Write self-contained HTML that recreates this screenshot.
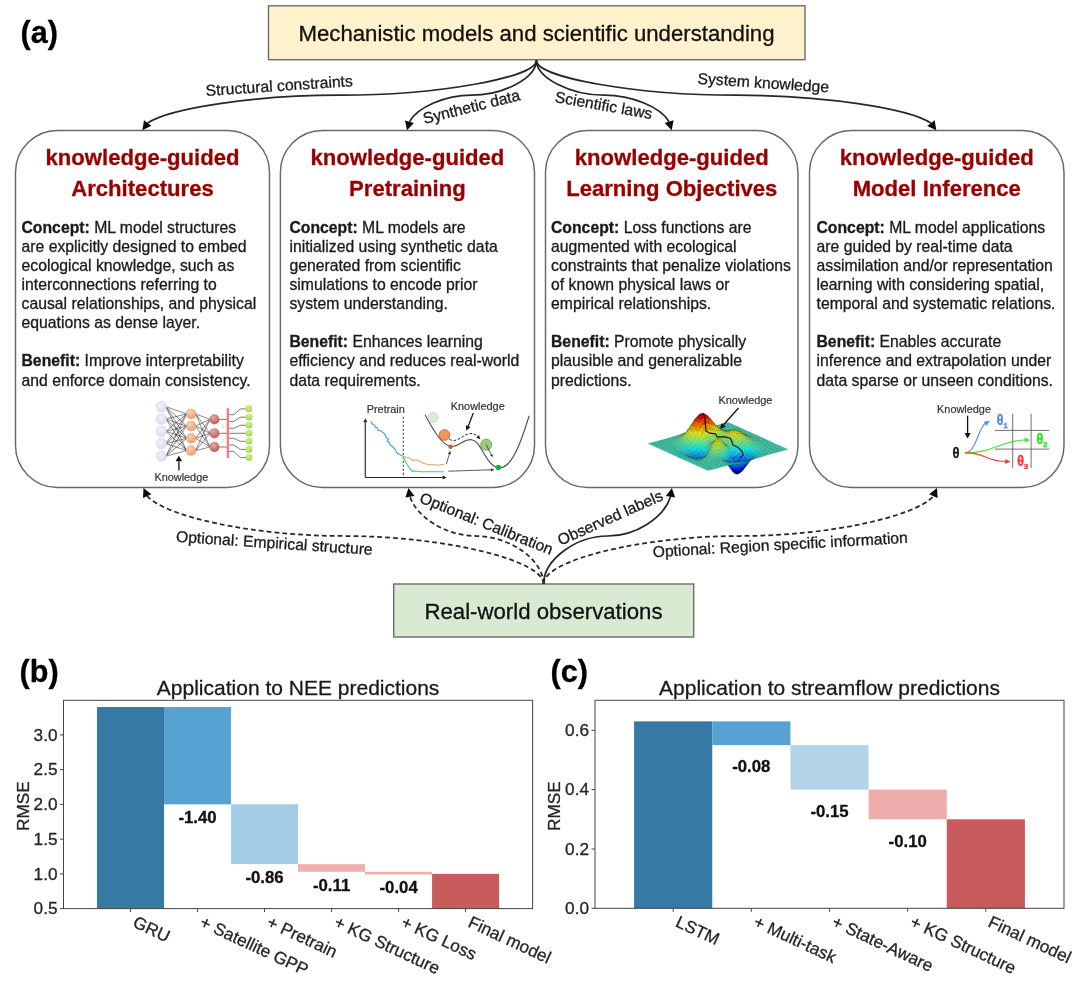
<!DOCTYPE html>
<html lang="en"><head><meta charset="utf-8"><title>Knowledge-guided machine learning</title>
<style>
html,body{margin:0;padding:0;background:#fff;}
body{width:1080px;height:983px;overflow:hidden;}
svg{display:block;font-family:"Liberation Sans", Arial, sans-serif;}
text{stroke-width:0.3px;stroke-linejoin:round;}
.body,.lbl{stroke:#1a1a1a;}
.hd{stroke:#990000;}
.tick{stroke:#262626;}
.ttl{stroke:#1a1a1a;}
.val{stroke:#111;}
.pan{stroke:#000;}
.kn{stroke:#333;stroke-width:0.2px;}
.body{font-size:15.75px;fill:#1a1a1a;}
.b{font-weight:bold;}
.hd{font-size:22.1px;font-weight:bold;fill:#990000;text-anchor:middle;}
.lbl{font-size:15.7px;fill:#1a1a1a;text-anchor:middle;}
.kn{font-size:10.9px;fill:#333;}
.tick{font-size:17.2px;fill:#262626;}
.ttl{font-size:21px;fill:#1a1a1a;text-anchor:middle;}
.val{font-size:16.8px;font-weight:bold;fill:#111;text-anchor:middle;}
.pan{font-size:30.6px;font-weight:bold;fill:#000;}
</style></head><body>
<svg width="1080" height="983" viewBox="0 0 1080 983">
<rect width="1080" height="983" fill="#fff"/>

<text class="pan" x="20.5" y="43">(a)</text>
<text class="pan" x="19.5" y="681.5">(b)</text>
<text class="pan" x="550.5" y="681.5">(c)</text>
<rect x="268.5" y="5.8" width="536.5" height="53.9" fill="#fff2cc" stroke="#6c6c6c" stroke-width="1.4"/>
<text x="536.5" y="40.5" text-anchor="middle" font-size="22.2" fill="#111" stroke="#111">Mechanistic models and scientific understanding</text>
<rect x="393.7" y="584" width="300" height="53" fill="#d9ead3" stroke="#6c6c6c" stroke-width="1.4"/>
<text x="543.5" y="618.7" text-anchor="middle" font-size="22.2" fill="#111" stroke="#111">Real-world observations</text>
<rect x="15.5" y="130.4" width="254.0" height="357.1" rx="42" ry="42" fill="#fff" stroke="#686868" stroke-width="1.45"/>
<rect x="280.4" y="130.4" width="254.1" height="357.1" rx="42" ry="42" fill="#fff" stroke="#686868" stroke-width="1.45"/>
<rect x="545.5" y="130.4" width="252.5" height="357.1" rx="42" ry="42" fill="#fff" stroke="#686868" stroke-width="1.45"/>
<rect x="809.5" y="130.4" width="254.5" height="357.1" rx="42" ry="42" fill="#fff" stroke="#686868" stroke-width="1.45"/>
<text class="hd" x="142.5" y="165.3">knowledge-guided</text>
<text class="hd" x="142.5" y="196">Architectures</text>
<text class="hd" x="407.4" y="165.3">knowledge-guided</text>
<text class="hd" x="407.4" y="196">Pretraining</text>
<text class="hd" x="671.8" y="165.3">knowledge-guided</text>
<text class="hd" x="671.8" y="196">Learning Objectives</text>
<text class="hd" x="936.8" y="165.3">knowledge-guided</text>
<text class="hd" x="936.8" y="196">Model Inference</text>
<text class="body" x="21.5" y="232.8"><tspan class="b">Concept:</tspan> ML model structures</text>
<text class="body" x="21.5" y="251.9">are explicitly designed to embed</text>
<text class="body" x="21.5" y="271.0">ecological knowledge, such as</text>
<text class="body" x="21.5" y="290.1">interconnections referring to</text>
<text class="body" x="21.5" y="309.2">causal relationships, and physical</text>
<text class="body" x="21.5" y="328.2">equations as dense layer.</text>
<text class="body" x="21.5" y="366.4"><tspan class="b">Benefit:</tspan> Improve interpretability</text>
<text class="body" x="21.5" y="385.5">and enforce domain consistency.</text>
<text class="body" x="289.4" y="232.8"><tspan class="b">Concept:</tspan> ML models are</text>
<text class="body" x="289.4" y="251.9">initialized using synthetic data</text>
<text class="body" x="289.4" y="271.0">generated from scientific</text>
<text class="body" x="289.4" y="290.1">simulations to encode prior</text>
<text class="body" x="289.4" y="309.2">system understanding.</text>
<text class="body" x="289.4" y="347.3"><tspan class="b">Benefit:</tspan> Enhances learning</text>
<text class="body" x="289.4" y="366.4">efficiency and reduces real-world</text>
<text class="body" x="289.4" y="385.5">data requirements.</text>
<text class="body" x="551" y="232.8"><tspan class="b">Concept:</tspan> Loss functions are</text>
<text class="body" x="551" y="251.9">augmented with ecological</text>
<text class="body" x="551" y="271.0">constraints that penalize violations</text>
<text class="body" x="551" y="290.1">of known physical laws or</text>
<text class="body" x="551" y="309.2">empirical relationships.</text>
<text class="body" x="551" y="347.3"><tspan class="b">Benefit:</tspan> Promote physically</text>
<text class="body" x="551" y="366.4">plausible and generalizable</text>
<text class="body" x="551" y="385.5">predictions.</text>
<text class="body" x="816.5" y="232.8"><tspan class="b">Concept:</tspan> ML model applications</text>
<text class="body" x="816.5" y="251.9">are guided by real-time data</text>
<text class="body" x="816.5" y="271.0">assimilation and/or representation</text>
<text class="body" x="816.5" y="290.1">learning with considering spatial,</text>
<text class="body" x="816.5" y="309.2">temporal and systematic relations.</text>
<text class="body" x="816.5" y="347.3"><tspan class="b">Benefit:</tspan> Enables accurate</text>
<text class="body" x="816.5" y="366.4">inference and extrapolation under</text>
<text class="body" x="816.5" y="385.5">data sparse or unseen conditions.</text>
<path d="M536.4,60.2 C536.4,77.7 437.9,95.2 339.4,95.2 C254.4,95.2 169.4,108.2 147.7,123.0" fill="none" stroke="#262626" stroke-width="1.7"/>
<polygon points="142.4,130.2 144.0,120.3 151.4,125.8" fill="#0a0a0a"/>
<path d="M536.4,60.2 C536.4,77.7 504.0,95.2 471.7,95.2 C444.7,95.2 417.6,107.4 409.5,121.7" fill="none" stroke="#262626" stroke-width="1.7"/>
<polygon points="407.0,130.2 405.0,120.4 413.9,122.9" fill="#0a0a0a"/>
<path d="M536.4,60.2 C536.4,77.7 570.2,95.2 604.0,95.2 C632.3,95.2 660.6,107.4 669.1,121.7" fill="none" stroke="#262626" stroke-width="1.7"/>
<polygon points="671.7,130.2 664.7,123.0 673.6,120.3" fill="#0a0a0a"/>
<path d="M536.4,60.2 C536.4,77.7 636.4,95.2 736.3,95.2 C822.7,95.2 909.0,108.2 931.0,123.1" fill="none" stroke="#262626" stroke-width="1.7"/>
<polygon points="936.3,130.2 927.2,125.9 934.7,120.3" fill="#0a0a0a"/>
<path d="M543.6,584.0 C543.6,560.0 443.6,536.0 343.6,536.0 C254.8,536.0 166.1,517.1 147.2,496.1" fill="none" stroke="#262626" stroke-width="1.75" stroke-dasharray="4.8 3.1"/>
<polygon points="143.5,488.0 151.4,494.2 143.0,498.0" fill="#0a0a0a"/>
<path d="M543.6,584.0 C543.6,560.0 509.8,536.0 476.1,536.0 C446.4,536.0 416.8,517.5 410.0,496.8" fill="none" stroke="#262626" stroke-width="1.75" stroke-dasharray="4.8 3.1"/>
<polygon points="408.5,488.0 414.5,496.0 405.4,497.5" fill="#0a0a0a"/>
<path d="M543.6,584.0 C543.6,560.0 575.7,536.0 607.8,536.0 C635.9,536.0 664.0,517.5 670.5,496.8" fill="none" stroke="#262626" stroke-width="1.7"/>
<polygon points="671.9,488.0 675.1,497.5 665.9,496.1" fill="#0a0a0a"/>
<path d="M543.6,584.0 C543.6,560.0 642.0,536.0 740.3,536.0 C827.5,536.0 914.7,517.1 933.4,496.1" fill="none" stroke="#262626" stroke-width="1.75" stroke-dasharray="4.8 3.1"/>
<polygon points="937.0,488.0 937.6,498.0 929.1,494.2" fill="#0a0a0a"/>
<text class="lbl" transform="translate(279.5,91.0) rotate(-3.8)">Structural constraints</text>
<text class="lbl" transform="translate(472.8,112.0) rotate(-14)">Synthetic data</text>
<text class="lbl" transform="translate(602.8,110.6) rotate(10)">Scientific laws</text>
<text class="lbl" transform="translate(763.0,88.0) rotate(3.8)">System knowledge</text>
<text class="lbl" transform="translate(274.0,548.3) rotate(3.8)">Optional: Empirical structure</text>
<text class="lbl" transform="translate(484.5,528.5) rotate(22)">Optional: Calibration</text>
<text class="lbl" transform="translate(612.3,522.6) rotate(-24)">Observed labels</text>
<text class="lbl" transform="translate(780.5,550.0) rotate(-3.2)">Optional: Region specific information</text>
<defs><radialGradient id="gL" cx="40%" cy="35%" r="70%"><stop offset="0" stop-color="#f0f0fe"/><stop offset="1" stop-color="#dcdcf5"/></radialGradient><radialGradient id="gO" cx="40%" cy="30%" r="75%"><stop offset="0" stop-color="#fbd0b4"/><stop offset="1" stop-color="#ee9a62"/></radialGradient><radialGradient id="gR" cx="40%" cy="30%" r="75%"><stop offset="0" stop-color="#e4aaaa"/><stop offset="1" stop-color="#bf5252"/></radialGradient><radialGradient id="gG" cx="40%" cy="30%" r="75%"><stop offset="0" stop-color="#d6f08c"/><stop offset="1" stop-color="#a4d840"/></radialGradient></defs><path d="M165.9,406.7L186.6,413.9M165.9,406.7L186.6,426.1M165.9,406.7L186.6,438.3M165.9,406.7L186.6,450.6M165.9,419.1L186.6,413.9M165.9,419.1L186.6,426.1M165.9,419.1L186.6,438.3M165.9,419.1L186.6,450.6M165.9,431.3L186.6,413.9M165.9,431.3L186.6,426.1M165.9,431.3L186.6,438.3M165.9,431.3L186.6,450.6M165.9,443.6L186.6,413.9M165.9,443.6L186.6,426.1M165.9,443.6L186.6,438.3M165.9,443.6L186.6,450.6M165.9,456.1L186.6,413.9M165.9,456.1L186.6,426.1M165.9,456.1L186.6,438.3M165.9,456.1L186.6,450.6M195.6,413.9L209.9,419.4M195.6,413.9L209.9,433.3M195.6,413.9L209.9,447.0M195.6,426.1L209.9,419.4M195.6,426.1L209.9,433.3M195.6,426.1L209.9,447.0M195.6,438.3L209.9,419.4M195.6,438.3L209.9,433.3M195.6,438.3L209.9,447.0M195.6,450.6L209.9,419.4M195.6,450.6L209.9,433.3M195.6,450.6L209.9,447.0" stroke="#111" stroke-width="0.55" fill="none" opacity="0.9"/><path d="M218.4,419.4H227.8M218.4,433.3H227.8M218.4,447.0H227.8M227.8,414.7H233.9L240.3,408.9H248.9M227.8,421.4H233.9L240.3,417.2H248.9M227.8,428.3H233.9L240.3,425.3H248.9M227.8,433.3H233.9L240.3,433.3H248.9M227.8,438.3H233.9L240.3,441.3H248.9M227.8,445.0H233.9L240.3,449.4H248.9M227.8,451.4H233.9L240.3,457.6H248.9" stroke="#444" stroke-width="0.7" fill="none"/><rect x="226.7" y="408.1" width="2.3" height="49.9" fill="#ff7b7b"/><path d="M222.8,424.4v3.2M222.8,439.1v3.2" stroke="#999" stroke-width="0.7" stroke-dasharray="1.2 0.8" fill="none"/><circle cx="161.4" cy="406.7" r="5.2" fill="url(#gL)" stroke="#c4c4d8" stroke-width="0.5"/><circle cx="161.4" cy="419.1" r="5.2" fill="url(#gL)" stroke="#c4c4d8" stroke-width="0.5"/><circle cx="161.4" cy="431.3" r="5.2" fill="url(#gL)" stroke="#c4c4d8" stroke-width="0.5"/><circle cx="161.4" cy="443.6" r="5.2" fill="url(#gL)" stroke="#c4c4d8" stroke-width="0.5"/><circle cx="161.4" cy="456.1" r="5.2" fill="url(#gL)" stroke="#c4c4d8" stroke-width="0.5"/><circle cx="191.1" cy="413.9" r="5.0" fill="url(#gO)" stroke="#e8a57c" stroke-width="0.4"/><circle cx="191.1" cy="426.1" r="5.0" fill="url(#gO)" stroke="#e8a57c" stroke-width="0.4"/><circle cx="191.1" cy="438.3" r="5.0" fill="url(#gO)" stroke="#e8a57c" stroke-width="0.4"/><circle cx="191.1" cy="450.6" r="5.0" fill="url(#gO)" stroke="#e8a57c" stroke-width="0.4"/><circle cx="214.4" cy="419.4" r="4.9" fill="url(#gR)" stroke="#c88" stroke-width="0.4"/><circle cx="214.4" cy="433.3" r="4.9" fill="url(#gR)" stroke="#c88" stroke-width="0.4"/><circle cx="214.4" cy="447.0" r="4.9" fill="url(#gR)" stroke="#c88" stroke-width="0.4"/><circle cx="248.9" cy="408.9" r="3.3" fill="url(#gG)" stroke="#b4d878" stroke-width="0.4"/><circle cx="248.9" cy="417.2" r="3.3" fill="url(#gG)" stroke="#b4d878" stroke-width="0.4"/><circle cx="248.9" cy="425.3" r="3.3" fill="url(#gG)" stroke="#b4d878" stroke-width="0.4"/><circle cx="248.9" cy="433.3" r="3.3" fill="url(#gG)" stroke="#b4d878" stroke-width="0.4"/><circle cx="248.9" cy="441.3" r="3.3" fill="url(#gG)" stroke="#b4d878" stroke-width="0.4"/><circle cx="248.9" cy="449.4" r="3.3" fill="url(#gG)" stroke="#b4d878" stroke-width="0.4"/><circle cx="248.9" cy="457.6" r="3.3" fill="url(#gG)" stroke="#b4d878" stroke-width="0.4"/><line x1="178.9" y1="470.6" x2="178.9" y2="461.3" stroke="#111" stroke-width="1.3"/><polygon points="178.9,455.8 182.1,461.3 175.6,461.3" fill="#111"/><text class="kn" x="154.4" y="480.6">Knowledge</text><line x1="365.3" y1="477.5" x2="365.3" y2="422.3" stroke="#222" stroke-width="1.1"/><polygon points="365.3,418.3 367.3,422.3 363.3,422.3" fill="#222"/><line x1="365.3" y1="477.5" x2="442.7" y2="477.5" stroke="#222" stroke-width="1.1"/><polygon points="446.7,477.5 442.7,479.5 442.7,475.5" fill="#222"/><line x1="403.3" y1="416.7" x2="403.3" y2="477.5" stroke="#222" stroke-width="0.9" stroke-dasharray="2.2 1.8"/><text class="kn" x="366.7" y="413.0">Pretrain</text><polyline points="370.8,421.7 373.0,424.7 374.7,425.0 375.3,427.2 377.3,427.7 378.0,430.3 380.3,430.7 382.7,432.2 385.0,434.3 386.3,437.7 388.3,439.0 387.3,441.0 389.3,442.7 390.0,445.0 392.7,446.7 395.0,449.3 396.7,452.7 399.3,454.3 401.3,455.3 403.3,456.3" fill="none" stroke="#4a9be0" stroke-width="1.15"/><polyline points="403.3,456.3 406.7,457.5 410.0,458.3 412.5,460.3 416.7,460.0 420.0,461.3 422.5,463.0 425.0,463.7 430.0,464.7 435.0,464.8 438.3,465.2 441.7,464.5 444.2,464.8" fill="none" stroke="#e9a27a" stroke-width="1.15"/><polyline points="403.3,456.7 405.0,460.8 407.5,465.0 410.0,469.2 412.5,471.3 415.0,471.0 421.7,471.7 444.2,471.7" fill="none" stroke="#3fcf7f" stroke-width="1.15"/><path d="M425.0,414.7 C433.3,430.0 441.7,445.0 450.8,446.3 C458.3,447.3 463.3,438.7 471.7,439.7 C481.7,441.0 485.0,465.0 498.3,467.7 C513.3,470.3 523.3,433.3 529.2,415.8" fill="none" stroke="#505050" stroke-width="1.15"/><circle cx="433.0" cy="417.5" r="5" fill="#deecd6" stroke="#9cc78a" stroke-width="0.8" stroke-dasharray="1.6 1.1"/><circle cx="444.5" cy="435.0" r="5.3" fill="#f4955a" stroke="#c9621f" stroke-width="0.9"/><circle cx="450.5" cy="446.7" r="2.2" fill="#c8601f"/><circle cx="486.2" cy="444.7" r="5.5" fill="#9cc97f" stroke="#6aa34c" stroke-width="0.9"/><circle cx="498.3" cy="467.5" r="2.8" fill="#08b44c"/><path d="M449.2,439.2 C455.0,442.5 459.2,438.7 465.0,435.3 C470.0,432.5 474.2,433.0 478.0,436.7" fill="none" stroke="#222" stroke-width="1" stroke-dasharray="2.6 1.8"/><polygon points="480.3,439.3 476.3,437.7 479.0,435.0" fill="#222"/><text class="kn" x="450.8" y="409.7">Knowledge</text><line x1="473.3" y1="413.0" x2="468.2" y2="426.2" stroke="#111" stroke-width="1.2"/><polygon points="466.3,430.8 465.8,425.3 470.5,427.1" fill="#111"/><line x1="486.2" y1="444.7" x2="491.3" y2="454.7" stroke="#333" stroke-width="0.8"/><polygon points="492.7,457.3 490.0,455.3 492.6,454.0" fill="#333"/><line x1="446.3" y1="464.2" x2="449.3" y2="454.2" stroke="#333" stroke-width="0.8"/><polygon points="450.3,450.8 450.9,454.6 447.8,453.7" fill="#333"/><line x1="448.3" y1="471.2" x2="490.8" y2="469.8" stroke="#333" stroke-width="0.8"/><polygon points="494.3,469.7 490.9,471.4 490.8,468.2" fill="#333"/><g stroke="#000" stroke-opacity="0.38" stroke-width="0.22" stroke-linejoin="round"><path d="M727.5,423.7L729.7,423.1L728.1,422.3L725.9,422.9Z" fill="#25cca6"/><path d="M725.3,424.3L727.5,423.7L725.9,422.9L723.6,423.5Z" fill="#25cca6"/><path d="M729.2,424.4L731.4,423.8L729.7,423.1L727.5,423.7Z" fill="#25cca6"/><path d="M723.1,424.8L725.3,424.3L723.6,423.5L721.4,424.1Z" fill="#25cca6"/><path d="M730.9,425.2L733.1,424.6L731.4,423.8L729.2,424.4Z" fill="#25cca6"/><path d="M727.0,425.0L729.2,424.4L727.5,423.7L725.3,424.3Z" fill="#25cca6"/><path d="M720.9,425.4L723.1,424.8L721.4,424.1L719.2,424.7Z" fill="#25cca6"/><path d="M724.7,425.6L727.0,425.0L725.3,424.3L723.1,424.8Z" fill="#25cca6"/><path d="M728.6,425.8L730.9,425.2L729.2,424.4L727.0,425.0Z" fill="#25cca6"/><path d="M732.5,425.9L734.7,425.3L733.1,424.6L730.9,425.2Z" fill="#25cca6"/><path d="M726.4,426.3L728.6,425.8L727.0,425.0L724.7,425.6Z" fill="#25cca6"/><path d="M718.6,426.0L720.9,425.4L719.2,424.7L717.0,425.3Z" fill="#25cca6"/><path d="M722.5,426.2L724.7,425.6L723.1,424.8L720.9,425.4Z" fill="#25cca6"/><path d="M730.3,426.5L732.5,425.9L730.9,425.2L728.6,425.8Z" fill="#25cca6"/><path d="M734.2,426.7L736.4,426.1L734.7,425.3L732.5,425.9Z" fill="#25cca6"/><path d="M716.4,426.6L718.6,426.0L717.0,425.3L714.7,425.8Z" fill="#26cca5"/><path d="M724.2,426.9L726.4,426.3L724.7,425.6L722.5,426.2Z" fill="#25cca6"/><path d="M728.1,427.1L730.3,426.5L728.6,425.8L726.4,426.3Z" fill="#25cca6"/><path d="M735.9,427.4L738.1,426.8L736.4,426.1L734.2,426.7Z" fill="#25cca6"/><path d="M720.3,426.7L722.5,426.2L720.9,425.4L718.6,426.0Z" fill="#26cca5"/><path d="M732.0,427.3L734.2,426.7L732.5,425.9L730.3,426.5Z" fill="#25cca6"/><path d="M714.2,427.1L716.4,426.6L714.7,425.8L712.5,426.4Z" fill="#26cca5"/><path d="M718.1,427.3L720.3,426.7L718.6,426.0L716.4,426.6Z" fill="#26cca5"/><path d="M722.0,427.5L724.2,426.9L722.5,426.2L720.3,426.7Z" fill="#26cca5"/><path d="M725.9,427.7L728.1,427.1L726.4,426.3L724.2,426.9Z" fill="#26cca5"/><path d="M729.7,427.8L732.0,427.3L730.3,426.5L728.1,427.1Z" fill="#26cca5"/><path d="M733.6,428.0L735.9,427.4L734.2,426.7L732.0,427.3Z" fill="#25cca6"/><path d="M737.5,428.2L739.7,427.6L738.1,426.8L735.9,427.4Z" fill="#25cca6"/><path d="M719.7,428.0L722.0,427.5L720.3,426.7L718.1,427.3Z" fill="#26cca5"/><path d="M731.4,428.6L733.6,428.0L732.0,427.3L729.7,427.8Z" fill="#26cca5"/><path d="M712.0,427.7L714.2,427.1L712.5,426.4L710.3,427.0Z" fill="#26cca5"/><path d="M715.9,427.8L718.1,427.3L716.4,426.6L714.2,427.1Z" fill="#26cca5"/><path d="M723.6,428.2L725.9,427.7L724.2,426.9L722.0,427.5Z" fill="#26cca5"/><path d="M727.5,428.4L729.7,427.8L728.1,427.1L725.9,427.7Z" fill="#26cca5"/><path d="M735.3,428.7L737.5,428.2L735.9,427.4L733.6,428.0Z" fill="#26cca5"/><path d="M739.2,428.9L741.4,428.3L739.7,427.6L737.5,428.2Z" fill="#25cca6"/><path d="M709.7,428.2L712.0,427.7L710.3,427.0L708.1,427.5Z" fill="#27cca4"/><path d="M717.5,428.5L719.7,428.0L718.1,427.3L715.9,427.8Z" fill="#27cca4"/><path d="M721.4,428.7L723.6,428.2L722.0,427.5L719.7,428.0Z" fill="#27cca4"/><path d="M729.2,429.1L731.4,428.6L729.7,427.8L727.5,428.4Z" fill="#26cca5"/><path d="M733.1,429.3L735.3,428.7L733.6,428.0L731.4,428.6Z" fill="#26cca5"/><path d="M740.9,429.7L743.1,429.1L741.4,428.3L739.2,428.9Z" fill="#26cca5"/><path d="M713.6,428.3L715.9,427.8L714.2,427.1L712.0,427.7Z" fill="#27cca4"/><path d="M725.3,428.9L727.5,428.4L725.9,427.7L723.6,428.2Z" fill="#27cca4"/><path d="M737.0,429.5L739.2,428.9L737.5,428.2L735.3,428.7Z" fill="#26cca5"/><path d="M707.5,428.6L709.7,428.2L708.1,427.5L705.9,428.1Z" fill="#28cca3"/><path d="M711.4,428.8L713.6,428.3L712.0,427.7L709.7,428.2Z" fill="#29cca2"/><path d="M715.3,428.9L717.5,428.5L715.9,427.8L713.6,428.3Z" fill="#29cca2"/><path d="M719.2,429.1L721.4,428.7L719.7,428.0L717.5,428.5Z" fill="#29cca2"/><path d="M723.1,429.3L725.3,428.9L723.6,428.2L721.4,428.7Z" fill="#28cca3"/><path d="M727.0,429.6L729.2,429.1L727.5,428.4L725.3,428.9Z" fill="#28cca3"/><path d="M730.9,429.8L733.1,429.3L731.4,428.6L729.2,429.1Z" fill="#27cca4"/><path d="M734.7,430.0L737.0,429.5L735.3,428.7L733.1,429.3Z" fill="#26cca5"/><path d="M738.6,430.2L740.9,429.7L739.2,428.9L737.0,429.5Z" fill="#26cca5"/><path d="M742.5,430.4L744.7,429.8L743.1,429.1L740.9,429.7Z" fill="#26cca5"/><path d="M713.1,429.2L715.3,428.9L713.6,428.3L711.4,428.8Z" fill="#2ccc9f"/><path d="M724.7,430.0L727.0,429.6L725.3,428.9L723.1,429.3Z" fill="#2acca1"/><path d="M736.4,430.7L738.6,430.2L737.0,429.5L734.7,430.0Z" fill="#27cca4"/><path d="M705.3,429.1L707.5,428.6L705.9,428.1L703.6,428.6Z" fill="#2acca1"/><path d="M709.2,429.1L711.4,428.8L709.7,428.2L707.5,428.6Z" fill="#2bcca0"/><path d="M717.0,429.4L719.2,429.1L717.5,428.5L715.3,428.9Z" fill="#2ccc9f"/><path d="M720.9,429.7L723.1,429.3L721.4,428.7L719.2,429.1Z" fill="#2bcca0"/><path d="M728.6,430.2L730.9,429.8L729.2,429.1L727.0,429.6Z" fill="#29cca2"/><path d="M732.5,430.5L734.7,430.0L733.1,429.3L730.9,429.8Z" fill="#28cca3"/><path d="M740.3,430.9L742.5,430.4L740.9,429.7L738.6,430.2Z" fill="#26cca5"/><path d="M744.2,431.1L746.4,430.6L744.7,429.8L742.5,430.4Z" fill="#26cca5"/><path d="M703.1,429.4L705.3,429.1L703.6,428.6L701.4,429.0Z" fill="#2dcc9e"/><path d="M710.9,429.4L713.1,429.2L711.4,428.8L709.2,429.1Z" fill="#30cc9b"/><path d="M714.7,429.6L717.0,429.4L715.3,428.9L713.1,429.2Z" fill="#30cc9b"/><path d="M722.5,430.2L724.7,430.0L723.1,429.3L720.9,429.7Z" fill="#2ecc9d"/><path d="M726.4,430.6L728.6,430.2L727.0,429.6L724.7,430.0Z" fill="#2ccc9f"/><path d="M734.2,431.2L736.4,430.7L734.7,430.0L732.5,430.5Z" fill="#28cca3"/><path d="M738.1,431.4L740.3,430.9L738.6,430.2L736.4,430.7Z" fill="#27cca4"/><path d="M745.9,431.9L748.1,431.3L746.4,430.6L744.2,431.1Z" fill="#26cca5"/><path d="M707.0,429.4L709.2,429.1L707.5,428.6L705.3,429.1Z" fill="#2fcc9c"/><path d="M718.6,429.9L720.9,429.7L719.2,429.1L717.0,429.4Z" fill="#2fcc9c"/><path d="M730.3,430.9L732.5,430.5L730.9,429.8L728.6,430.2Z" fill="#2acca1"/><path d="M742.0,431.7L744.2,431.1L742.5,430.4L740.3,430.9Z" fill="#27cca4"/><path d="M700.9,429.8L703.1,429.4L701.4,429.0L699.2,429.5Z" fill="#2fcc9c"/><path d="M704.7,429.6L707.0,429.4L705.3,429.1L703.1,429.4Z" fill="#33cc98"/><path d="M708.6,429.5L710.9,429.4L709.2,429.1L707.0,429.4Z" fill="#36cc95"/><path d="M712.5,429.6L714.7,429.6L713.1,429.2L710.9,429.4Z" fill="#37cc94"/><path d="M716.4,429.8L718.6,429.9L717.0,429.4L714.7,429.6Z" fill="#36cc95"/><path d="M720.3,430.2L722.5,430.2L720.9,429.7L718.6,429.9Z" fill="#34cc97"/><path d="M724.2,430.7L726.4,430.6L724.7,430.0L722.5,430.2Z" fill="#31cc9a"/><path d="M728.1,431.1L730.3,430.9L728.6,430.2L726.4,430.6Z" fill="#2ecc9d"/><path d="M732.0,431.5L734.2,431.2L732.5,430.5L730.3,430.9Z" fill="#2bcca0"/><path d="M735.9,431.8L738.1,431.4L736.4,430.7L734.2,431.2Z" fill="#29cca2"/><path d="M739.7,432.1L742.0,431.7L740.3,430.9L738.1,431.4Z" fill="#28cca3"/><path d="M743.6,432.4L745.9,431.9L744.2,431.1L742.0,431.7Z" fill="#27cca4"/><path d="M747.5,432.6L749.7,432.1L748.1,431.3L745.9,431.9Z" fill="#26cca5"/><path d="M706.4,429.4L708.6,429.5L707.0,429.4L704.7,429.6Z" fill="#3ecc8d"/><path d="M718.1,430.0L720.3,430.2L718.6,429.9L716.4,429.8Z" fill="#3ecc8d"/><path d="M729.7,431.7L732.0,431.5L730.3,430.9L728.1,431.1Z" fill="#30cc9b"/><path d="M741.4,432.8L743.6,432.4L742.0,431.7L739.7,432.1Z" fill="#29cca2"/><path d="M698.6,430.1L700.9,429.8L699.2,429.5L697.0,430.0Z" fill="#33cc98"/><path d="M749.2,433.3L751.4,432.8L749.7,432.1L747.5,432.6Z" fill="#27cca4"/><path d="M702.5,429.7L704.7,429.6L703.1,429.4L700.9,429.8Z" fill="#39cc92"/><path d="M710.3,429.3L712.5,429.6L710.9,429.4L708.6,429.5Z" fill="#41cc8a"/><path d="M714.2,429.5L716.4,429.8L714.7,429.6L712.5,429.6Z" fill="#41cc8a"/><path d="M722.0,430.6L724.2,430.7L722.5,430.2L720.3,430.2Z" fill="#39cc92"/><path d="M725.9,431.2L728.1,431.1L726.4,430.6L724.2,430.7Z" fill="#34cc97"/><path d="M733.6,432.1L735.9,431.8L734.2,431.2L732.0,431.5Z" fill="#2dcc9e"/><path d="M737.5,432.5L739.7,432.1L738.1,431.4L735.9,431.8Z" fill="#2bcca0"/><path d="M745.3,433.1L747.5,432.6L745.9,431.9L743.6,432.4Z" fill="#28cca3"/><path d="M696.4,430.4L698.6,430.1L697.0,430.0L694.7,430.4Z" fill="#36cc95"/><path d="M704.2,429.2L706.4,429.4L704.7,429.6L702.5,429.7Z" fill="#47cc84"/><path d="M708.1,428.8L710.3,429.3L708.6,429.5L706.4,429.4Z" fill="#4ecc7d"/><path d="M715.9,429.4L718.1,430.0L716.4,429.8L714.2,429.5Z" fill="#4ccc7f"/><path d="M719.7,430.1L722.0,430.6L720.3,430.2L718.1,430.0Z" fill="#46cc85"/><path d="M727.5,431.7L729.7,431.7L728.1,431.1L725.9,431.2Z" fill="#38cc93"/><path d="M731.4,432.2L733.6,432.1L732.0,431.5L729.7,431.7Z" fill="#33cc98"/><path d="M739.2,433.0L741.4,432.8L739.7,432.1L737.5,432.5Z" fill="#2dcc9e"/><path d="M743.1,433.4L745.3,433.1L743.6,432.4L741.4,432.8Z" fill="#2acca1"/><path d="M750.9,434.0L753.1,433.5L751.4,432.8L749.2,433.3Z" fill="#27cca4"/><path d="M700.3,429.8L702.5,429.7L700.9,429.8L698.6,430.1Z" fill="#3fcc8c"/><path d="M747.0,433.7L749.2,433.3L747.5,432.6L745.3,433.1Z" fill="#29cca2"/><path d="M712.0,428.9L714.2,429.5L712.5,429.6L710.3,429.3Z" fill="#50cc7b"/><path d="M723.6,430.9L725.9,431.2L724.2,430.7L722.0,430.6Z" fill="#3ecc8d"/><path d="M735.3,432.7L737.5,432.5L735.9,431.8L733.6,432.1Z" fill="#2fcc9c"/><path d="M702.0,429.0L704.2,429.2L702.5,429.7L700.3,429.8Z" fill="#52cc79"/><path d="M744.7,434.0L747.0,433.7L745.3,433.1L743.1,433.4Z" fill="#2ccc9f"/><path d="M694.2,430.8L696.4,430.4L694.7,430.4L692.5,430.9Z" fill="#39cc92"/><path d="M698.1,429.9L700.3,429.8L698.6,430.1L696.4,430.4Z" fill="#45cc86"/><path d="M705.9,428.2L708.1,428.8L706.4,429.4L704.2,429.2Z" fill="#5dcc6e"/><path d="M709.7,427.9L712.0,428.9L710.3,429.3L708.1,428.8Z" fill="#63cc69"/><path d="M713.6,428.3L715.9,429.4L714.2,429.5L712.0,428.9Z" fill="#61cc6a"/><path d="M717.5,429.2L719.7,430.1L718.1,430.0L715.9,429.4Z" fill="#59cc72"/><path d="M721.4,430.3L723.6,430.9L722.0,430.6L719.7,430.1Z" fill="#4ecc7d"/><path d="M725.3,431.3L727.5,431.7L725.9,431.2L723.6,430.9Z" fill="#44cc87"/><path d="M729.2,432.1L731.4,432.2L729.7,431.7L727.5,431.7Z" fill="#3ccc8f"/><path d="M733.1,432.7L735.3,432.7L733.6,432.1L731.4,432.2Z" fill="#37cc94"/><path d="M737.0,433.2L739.2,433.0L737.5,432.5L735.3,432.7Z" fill="#32cc99"/><path d="M740.9,433.6L743.1,433.4L741.4,432.8L739.2,433.0Z" fill="#2fcc9c"/><path d="M748.6,434.4L750.9,434.0L749.2,433.3L747.0,433.7Z" fill="#29cca2"/><path d="M752.5,434.8L754.7,434.3L753.1,433.5L750.9,434.0Z" fill="#28cca3"/><path d="M699.7,428.7L702.0,429.0L700.3,429.8L698.1,429.9Z" fill="#5dcc6e"/><path d="M711.4,426.8L713.6,428.3L712.0,428.9L709.7,427.9Z" fill="#81d453"/><path d="M723.1,430.6L725.3,431.3L723.6,430.9L721.4,430.3Z" fill="#55cc76"/><path d="M734.7,433.0L737.0,433.2L735.3,432.7L733.1,432.7Z" fill="#3bcc90"/><path d="M746.4,434.7L748.6,434.4L747.0,433.7L744.7,434.0Z" fill="#2ecc9d"/><path d="M692.0,431.2L694.2,430.8L692.5,430.9L690.3,431.4Z" fill="#3bcc90"/><path d="M703.6,427.4L705.9,428.2L704.2,429.2L702.0,429.0Z" fill="#73d360"/><path d="M742.5,434.1L744.7,434.0L743.1,433.4L740.9,433.6Z" fill="#32cc99"/><path d="M754.2,435.5L756.4,435.0L754.7,434.3L752.5,434.8Z" fill="#28cca3"/><path d="M695.9,430.1L698.1,429.9L696.4,430.4L694.2,430.8Z" fill="#4acc81"/><path d="M707.5,426.7L709.7,427.9L708.1,428.8L705.9,428.2Z" fill="#80d655"/><path d="M715.3,427.8L717.5,429.2L715.9,429.4L713.6,428.3Z" fill="#74cd59"/><path d="M719.2,429.2L721.4,430.3L719.7,430.1L717.5,429.2Z" fill="#65cc66"/><path d="M727.0,431.7L729.2,432.1L727.5,431.7L725.3,431.3Z" fill="#49cc82"/><path d="M730.9,432.5L733.1,432.7L731.4,432.2L729.2,432.1Z" fill="#41cc8a"/><path d="M738.6,433.6L740.9,433.6L739.2,433.0L737.0,433.2Z" fill="#36cc95"/><path d="M750.3,435.1L752.5,434.8L750.9,434.0L748.6,434.4Z" fill="#2acca1"/><path d="M689.7,431.8L692.0,431.2L690.3,431.4L688.1,432.0Z" fill="#3ccc8f"/><path d="M697.5,428.6L699.7,428.7L698.1,429.9L695.9,430.1Z" fill="#68ce65"/><path d="M701.4,426.7L703.6,427.4L702.0,429.0L699.7,428.7Z" fill="#88d850"/><path d="M709.2,425.0L711.4,426.8L709.7,427.9L707.5,426.7Z" fill="#a8db33"/><path d="M713.1,425.9L715.3,427.8L713.6,428.3L711.4,426.8Z" fill="#9dd73a"/><path d="M720.9,429.5L723.1,430.6L721.4,430.3L719.2,429.2Z" fill="#6ecc5d"/><path d="M724.7,431.0L727.0,431.7L725.3,431.3L723.1,430.6Z" fill="#5ccc6f"/><path d="M732.5,432.7L734.7,433.0L733.1,432.7L730.9,432.5Z" fill="#48cc83"/><path d="M736.4,433.3L738.6,433.6L737.0,433.2L734.7,433.0Z" fill="#41cc8a"/><path d="M744.2,434.7L746.4,434.7L744.7,434.0L742.5,434.1Z" fill="#35cc96"/><path d="M748.1,435.3L750.3,435.1L748.6,434.4L746.4,434.7Z" fill="#2fcc9c"/><path d="M755.9,436.2L758.1,435.8L756.4,435.0L754.2,435.5Z" fill="#28cca3"/><path d="M693.6,430.4L695.9,430.1L694.2,430.8L692.0,431.2Z" fill="#4fcc7c"/><path d="M705.3,425.3L707.5,426.7L705.9,428.2L703.6,427.4Z" fill="#a0dc3c"/><path d="M740.3,434.0L742.5,434.1L740.9,433.6L738.6,433.6Z" fill="#3bcc90"/><path d="M752.0,435.8L754.2,435.5L752.5,434.8L750.3,435.1Z" fill="#2bcca0"/><path d="M717.0,427.6L719.2,429.2L717.5,429.2L715.3,427.8Z" fill="#84cd49"/><path d="M728.6,432.0L730.9,432.5L729.2,432.1L727.0,431.7Z" fill="#4fcc7c"/><path d="M695.3,428.7L697.5,428.6L695.9,430.1L693.6,430.4Z" fill="#71d05f"/><path d="M707.0,423.0L709.2,425.0L707.5,426.7L705.3,425.3Z" fill="#d2e00d"/><path d="M738.1,433.5L740.3,434.0L738.6,433.6L736.4,433.3Z" fill="#49cc82"/><path d="M749.7,436.0L752.0,435.8L750.3,435.1L748.1,435.3Z" fill="#30cc9b"/><path d="M687.5,432.4L689.7,431.8L688.1,432.0L685.9,432.6Z" fill="#3ccc8f"/><path d="M691.4,430.9L693.6,430.4L692.0,431.2L689.7,431.8Z" fill="#51cc7a"/><path d="M699.2,426.2L701.4,426.7L699.7,428.7L697.5,428.6Z" fill="#9bdb3f"/><path d="M703.1,424.0L705.3,425.3L703.6,427.4L701.4,426.7Z" fill="#bfdf1f"/><path d="M710.9,423.5L713.1,425.9L711.4,426.8L709.2,425.0Z" fill="#cddd0f"/><path d="M714.7,425.4L717.0,427.6L715.3,427.8L713.1,425.9Z" fill="#b2d623"/><path d="M718.6,427.8L720.9,429.5L719.2,429.2L717.0,427.6Z" fill="#8ecc3d"/><path d="M722.5,430.0L724.7,431.0L723.1,430.6L720.9,429.5Z" fill="#74cc57"/><path d="M726.4,431.4L728.6,432.0L727.0,431.7L724.7,431.0Z" fill="#62cc69"/><path d="M730.3,432.2L732.5,432.7L730.9,432.5L728.6,432.0Z" fill="#57cc74"/><path d="M734.2,432.8L736.4,433.3L734.7,433.0L732.5,432.7Z" fill="#50cc7b"/><path d="M742.0,434.3L744.2,434.7L742.5,434.1L740.3,434.0Z" fill="#40cc8b"/><path d="M745.9,435.2L748.1,435.3L746.4,434.7L744.2,434.7Z" fill="#37cc94"/><path d="M753.6,436.6L755.9,436.2L754.2,435.5L752.0,435.8Z" fill="#2bcca0"/><path d="M757.5,437.0L759.7,436.5L758.1,435.8L755.9,436.2Z" fill="#28cca3"/><path d="M693.1,429.2L695.3,428.7L693.6,430.4L691.4,430.9Z" fill="#74cf5a"/><path d="M704.7,421.1L707.0,423.0L705.3,425.3L703.1,424.0Z" fill="#e2c700"/><path d="M716.4,425.8L718.6,427.8L717.0,427.6L714.7,425.4Z" fill="#b8cd15"/><path d="M728.1,431.6L730.3,432.2L728.6,432.0L726.4,431.4Z" fill="#6acc61"/><path d="M739.7,433.7L742.0,434.3L740.3,434.0L738.1,433.5Z" fill="#50cc7b"/><path d="M751.4,436.7L753.6,436.6L752.0,435.8L749.7,436.0Z" fill="#31cc9a"/><path d="M685.3,433.1L687.5,432.4L685.9,432.6L683.6,433.2Z" fill="#3bcc90"/><path d="M697.0,426.1L699.2,426.2L697.5,428.6L695.3,428.7Z" fill="#a9dc32"/><path d="M708.6,421.0L710.9,423.5L709.2,425.0L707.0,423.0Z" fill="#e1be00"/><path d="M735.9,432.8L738.1,433.5L736.4,433.3L734.2,432.8Z" fill="#5acc71"/><path d="M747.5,435.8L749.7,436.0L748.1,435.3L745.9,435.2Z" fill="#3acc91"/><path d="M759.2,437.8L761.4,437.3L759.7,436.5L757.5,437.0Z" fill="#28cca3"/><path d="M689.2,431.6L691.4,430.9L689.7,431.8L687.5,432.4Z" fill="#51cc7a"/><path d="M700.9,423.0L703.1,424.0L701.4,426.7L699.2,426.2Z" fill="#dbe105"/><path d="M712.5,422.8L714.7,425.4L713.1,425.9L710.9,423.5Z" fill="#dbcd00"/><path d="M720.3,428.6L722.5,430.0L720.9,429.5L718.6,427.8Z" fill="#93cc38"/><path d="M724.2,430.6L726.4,431.4L724.7,431.0L722.5,430.0Z" fill="#79cc52"/><path d="M732.0,432.2L734.2,432.8L732.5,432.7L730.3,432.2Z" fill="#62cc69"/><path d="M743.6,434.8L745.9,435.2L744.2,434.7L742.0,434.3Z" fill="#45cc86"/><path d="M755.3,437.3L757.5,437.0L755.9,436.2L753.6,436.6Z" fill="#2bcca0"/><path d="M683.1,434.0L685.3,433.1L683.6,433.2L681.4,433.9Z" fill="#39cc92"/><path d="M690.9,429.9L693.1,429.2L691.4,430.9L689.2,431.6Z" fill="#72cc59"/><path d="M694.7,426.4L697.0,426.1L695.3,428.7L693.1,429.2Z" fill="#b0db2b"/><path d="M702.5,419.5L704.7,421.1L703.1,424.0L700.9,423.0Z" fill="#e3a200"/><path d="M706.4,418.5L708.6,421.0L707.0,423.0L704.7,421.1Z" fill="#e28c00"/><path d="M714.2,423.3L716.4,425.8L714.7,425.4L712.5,422.8Z" fill="#d1b600"/><path d="M718.1,427.0L720.3,428.6L718.6,427.8L716.4,425.8Z" fill="#b8cc13"/><path d="M725.9,431.1L728.1,431.6L726.4,431.4L724.2,430.6Z" fill="#7ecc4d"/><path d="M729.7,431.6L732.0,432.2L730.3,432.2L728.1,431.6Z" fill="#75cc56"/><path d="M737.5,432.7L739.7,433.7L738.1,433.5L735.9,432.8Z" fill="#66cc65"/><path d="M741.4,433.9L743.6,434.8L742.0,434.3L739.7,433.7Z" fill="#58cc73"/><path d="M749.2,436.5L751.4,436.7L749.7,436.0L747.5,435.8Z" fill="#3bcc90"/><path d="M753.1,437.5L755.3,437.3L753.6,436.6L751.4,436.7Z" fill="#31cc9a"/><path d="M760.9,438.5L763.1,438.1L761.4,437.3L759.2,437.8Z" fill="#28cca3"/><path d="M687.0,432.5L689.2,431.6L687.5,432.4L685.3,433.1Z" fill="#4fcc7c"/><path d="M698.6,422.5L700.9,423.0L699.2,426.2L697.0,426.1Z" fill="#e1d200"/><path d="M710.3,420.0L712.5,422.8L710.9,423.5L708.6,421.0Z" fill="#de9700"/><path d="M733.6,431.9L735.9,432.8L734.2,432.8L732.0,432.2Z" fill="#6fcc5c"/><path d="M745.3,435.3L747.5,435.8L745.9,435.2L743.6,434.8Z" fill="#48cc83"/><path d="M757.0,438.1L759.2,437.8L757.5,437.0L755.3,437.3Z" fill="#2bcca0"/><path d="M722.0,429.7L724.2,430.6L722.5,430.0L720.3,428.6Z" fill="#93cc38"/><path d="M688.6,431.0L690.9,429.9L689.2,431.6L687.0,432.5Z" fill="#6ecc5d"/><path d="M700.3,418.6L702.5,419.5L700.9,423.0L698.6,422.5Z" fill="#e38500"/><path d="M712.0,420.6L714.2,423.3L712.5,422.8L710.3,420.0Z" fill="#d27f00"/><path d="M731.4,431.2L733.6,431.9L732.0,432.2L729.7,431.6Z" fill="#84cc47"/><path d="M743.1,434.3L745.3,435.3L743.6,434.8L741.4,433.9Z" fill="#5ecc6d"/><path d="M754.7,438.3L757.0,438.1L755.3,437.3L753.1,437.5Z" fill="#30cc9b"/><path d="M680.9,434.8L683.1,434.0L681.4,433.9L679.2,434.7Z" fill="#36cc95"/><path d="M684.7,433.5L687.0,432.5L685.3,433.1L683.1,434.0Z" fill="#4acc81"/><path d="M692.5,427.2L694.7,426.4L693.1,429.2L690.9,429.9Z" fill="#aed82a"/><path d="M696.4,422.7L698.6,422.5L697.0,426.1L694.7,426.4Z" fill="#e0c600"/><path d="M704.2,416.5L706.4,418.5L704.7,421.1L702.5,419.5Z" fill="#e35d00"/><path d="M708.1,417.2L710.3,420.0L708.6,421.0L706.4,418.5Z" fill="#df5e00"/><path d="M715.9,425.0L718.1,427.0L716.4,425.8L714.2,423.3Z" fill="#ccb400"/><path d="M719.7,428.7L722.0,429.7L720.3,428.6L718.1,427.0Z" fill="#b1cc1a"/><path d="M723.6,430.7L725.9,431.1L724.2,430.6L722.0,429.7Z" fill="#92cc39"/><path d="M727.5,431.2L729.7,431.6L728.1,431.6L725.9,431.1Z" fill="#87cc44"/><path d="M735.3,431.6L737.5,432.7L735.9,432.8L733.6,431.9Z" fill="#7ecc4d"/><path d="M739.2,432.7L741.4,433.9L739.7,433.7L737.5,432.7Z" fill="#71cc5a"/><path d="M747.0,435.9L749.2,436.5L747.5,435.8L745.3,435.3Z" fill="#4acc81"/><path d="M750.9,437.3L753.1,437.5L751.4,436.7L749.2,436.5Z" fill="#3bcc90"/><path d="M758.6,438.9L760.9,438.5L759.2,437.8L757.0,438.1Z" fill="#2acca1"/><path d="M762.5,439.3L764.7,438.8L763.1,438.1L760.9,438.5Z" fill="#27cca4"/><path d="M686.4,432.3L688.6,431.0L687.0,432.5L684.7,433.5Z" fill="#67cc64"/><path d="M698.1,418.7L700.3,418.6L698.6,422.5L696.4,422.7Z" fill="#e27500"/><path d="M709.7,417.9L712.0,420.6L710.3,420.0L708.1,417.2Z" fill="#cf4600"/><path d="M721.4,430.6L723.6,430.7L722.0,429.7L719.7,428.7Z" fill="#a5cc26"/><path d="M733.1,430.7L735.3,431.6L733.6,431.9L731.4,431.2Z" fill="#96cc35"/><path d="M744.7,434.9L747.0,435.9L745.3,435.3L743.1,434.3Z" fill="#61cc6a"/><path d="M756.4,439.2L758.6,438.9L757.0,438.1L754.7,438.3Z" fill="#2fcc9c"/><path d="M678.6,435.7L680.9,434.8L679.2,434.7L677.0,435.4Z" fill="#33cc98"/><path d="M690.3,428.6L692.5,427.2L690.9,429.9L688.6,431.0Z" fill="#a2d330"/><path d="M702.0,415.3L704.2,416.5L702.5,419.5L700.3,418.6Z" fill="#e33800"/><path d="M713.6,422.9L715.9,425.0L714.2,423.3L712.0,420.6Z" fill="#cc8400"/><path d="M729.2,431.0L731.4,431.2L729.7,431.6L727.5,431.2Z" fill="#95cc36"/><path d="M740.9,432.9L743.1,434.3L741.4,433.9L739.2,432.7Z" fill="#79cc52"/><path d="M752.5,438.2L754.7,438.3L753.1,437.5L750.9,437.3Z" fill="#3acc91"/><path d="M764.2,440.1L766.4,439.6L764.7,438.8L762.5,439.3Z" fill="#27cca4"/><path d="M682.5,434.5L684.7,433.5L683.1,434.0L680.9,434.8Z" fill="#45cc86"/><path d="M694.2,423.7L696.4,422.7L694.7,426.4L692.5,427.2Z" fill="#dec400"/><path d="M705.9,414.9L708.1,417.2L706.4,418.5L704.2,416.5Z" fill="#de2800"/><path d="M717.5,427.7L719.7,428.7L718.1,427.0L715.9,425.0Z" fill="#ccc600"/><path d="M725.3,431.4L727.5,431.2L725.9,431.1L723.6,430.7Z" fill="#95cc36"/><path d="M737.0,431.4L739.2,432.7L737.5,432.7L735.3,431.6Z" fill="#8dcc3e"/><path d="M748.6,436.8L750.9,437.3L749.2,436.5L747.0,435.9Z" fill="#4bcc80"/><path d="M760.3,439.8L762.5,439.3L760.9,438.5L758.6,438.9Z" fill="#2acca1"/><path d="M676.4,436.5L678.6,435.7L677.0,435.4L674.7,436.1Z" fill="#2fcc9c"/><path d="M684.2,433.7L686.4,432.3L684.7,433.5L682.5,434.5Z" fill="#5dcc6e"/><path d="M688.1,430.3L690.3,428.6L688.6,431.0L686.4,432.3Z" fill="#90cc3b"/><path d="M695.9,419.8L698.1,418.7L696.4,422.7L694.2,423.7Z" fill="#df7300"/><path d="M699.7,415.2L702.0,415.3L700.3,418.6L698.1,418.7Z" fill="#e02400"/><path d="M707.5,415.7L709.7,417.9L708.1,417.2L705.9,414.9Z" fill="#cc1300"/><path d="M711.4,420.8L713.6,422.9L712.0,420.6L709.7,417.9Z" fill="#cc5400"/><path d="M719.2,430.7L721.4,430.6L719.7,428.7L717.5,427.7Z" fill="#c2d815"/><path d="M723.1,432.1L725.3,431.4L723.6,430.7L721.4,430.6Z" fill="#9ece2f"/><path d="M730.9,430.5L733.1,430.7L731.4,431.2L729.2,431.0Z" fill="#a8cc23"/><path d="M734.7,430.3L737.0,431.4L735.3,431.6L733.1,430.7Z" fill="#a8cc23"/><path d="M742.5,433.5L744.7,434.9L743.1,434.3L740.9,432.9Z" fill="#7ecc4d"/><path d="M746.4,435.8L748.6,436.8L747.0,435.9L744.7,434.9Z" fill="#61cc6a"/><path d="M754.2,439.1L756.4,439.2L754.7,438.3L752.5,438.2Z" fill="#38cc93"/><path d="M758.1,440.0L760.3,439.8L758.6,438.9L756.4,439.2Z" fill="#2ecc9d"/><path d="M765.9,440.9L768.1,440.4L766.4,439.6L764.2,440.1Z" fill="#27cca4"/><path d="M680.3,435.6L682.5,434.5L680.9,434.8L678.6,435.7Z" fill="#3fcc8c"/><path d="M692.0,425.4L694.2,423.7L692.5,427.2L690.3,428.6Z" fill="#d9ca00"/><path d="M703.6,413.5L705.9,414.9L704.2,416.5L702.0,415.3Z" fill="#db0000"/><path d="M715.3,426.6L717.5,427.7L715.9,425.0L713.6,422.9Z" fill="#d7ad00"/><path d="M727.0,431.5L729.2,431.0L727.5,431.2L725.3,431.4Z" fill="#9ecc2d"/><path d="M738.6,431.5L740.9,432.9L739.2,432.7L737.0,431.4Z" fill="#99cc32"/><path d="M750.3,437.7L752.5,438.2L750.9,437.3L748.6,436.8Z" fill="#49cc82"/><path d="M762.0,440.6L764.2,440.1L762.5,439.3L760.3,439.8Z" fill="#29cca2"/><path d="M682.0,435.1L684.2,433.7L682.5,434.5L680.3,435.6Z" fill="#52cc79"/><path d="M693.6,421.8L695.9,419.8L694.2,423.7L692.0,425.4Z" fill="#da8000"/><path d="M705.3,414.3L707.5,415.7L705.9,414.9L703.6,413.5Z" fill="#b70000"/><path d="M717.0,430.8L719.2,430.7L717.5,427.7L715.3,426.6Z" fill="#dcdf03"/><path d="M724.7,432.9L727.0,431.5L725.3,431.4L723.1,432.1Z" fill="#9dcd2f"/><path d="M736.4,430.3L738.6,431.5L737.0,431.4L734.7,430.3Z" fill="#b7cc14"/><path d="M748.1,436.8L750.3,437.7L748.6,436.8L746.4,435.8Z" fill="#5fcc6c"/><path d="M759.7,440.9L762.0,440.6L760.3,439.8L758.1,440.0Z" fill="#2ccc9f"/><path d="M674.2,437.3L676.4,436.5L674.7,436.1L672.5,436.8Z" fill="#2dcc9e"/><path d="M767.5,441.7L769.7,441.1L768.1,440.4L765.9,440.9Z" fill="#26cca5"/><path d="M678.1,436.7L680.3,435.6L678.6,435.7L676.4,436.5Z" fill="#38cc93"/><path d="M685.9,432.2L688.1,430.3L686.4,432.3L684.2,433.7Z" fill="#80cc4b"/><path d="M689.7,427.6L692.0,425.4L690.3,428.6L688.1,430.3Z" fill="#cbd004"/><path d="M697.5,416.4L699.7,415.2L698.1,418.7L695.9,419.8Z" fill="#dc2300"/><path d="M701.4,413.4L703.6,413.5L702.0,415.3L699.7,415.2Z" fill="#bf0000"/><path d="M709.2,419.0L711.4,420.8L709.7,417.9L707.5,415.7Z" fill="#d32700"/><path d="M713.1,425.5L715.3,426.6L713.6,422.9L711.4,420.8Z" fill="#de8b00"/><path d="M720.9,433.3L723.1,432.1L721.4,430.6L719.2,430.7Z" fill="#abdb30"/><path d="M728.6,431.2L730.9,430.5L729.2,431.0L727.0,431.5Z" fill="#aecc1d"/><path d="M732.5,430.0L734.7,430.3L733.1,430.7L730.9,430.5Z" fill="#bccc0f"/><path d="M740.3,432.0L742.5,433.5L740.9,432.9L738.6,431.5Z" fill="#a0cc2b"/><path d="M744.2,434.4L746.4,435.8L744.7,434.9L742.5,433.5Z" fill="#7fcc4c"/><path d="M752.0,438.8L754.2,439.1L752.5,438.2L750.3,437.7Z" fill="#45cc86"/><path d="M755.9,440.1L758.1,440.0L756.4,439.2L754.2,439.1Z" fill="#35cc96"/><path d="M763.6,441.4L765.9,440.9L764.2,440.1L762.0,440.6Z" fill="#28cca3"/><path d="M679.7,436.5L682.0,435.1L680.3,435.6L678.1,436.7Z" fill="#47cc84"/><path d="M691.4,424.6L693.6,421.8L692.0,425.4L689.7,427.6Z" fill="#cf9400"/><path d="M703.1,414.1L705.3,414.3L703.6,413.5L701.4,413.4Z" fill="#a10000"/><path d="M714.7,430.8L717.0,430.8L715.3,426.6L713.1,425.5Z" fill="#e4d200"/><path d="M726.4,433.1L728.6,431.2L727.0,431.5L724.7,432.9Z" fill="#a6cc25"/><path d="M738.1,430.7L740.3,432.0L738.6,431.5L736.4,430.3Z" fill="#c0cc0b"/><path d="M749.7,438.1L752.0,438.8L750.3,437.7L748.1,436.8Z" fill="#59cc72"/><path d="M761.4,441.8L763.6,441.4L762.0,440.6L759.7,440.9Z" fill="#2bcca0"/><path d="M672.0,438.1L674.2,437.3L672.5,436.8L670.3,437.5Z" fill="#2acca1"/><path d="M683.6,434.1L685.9,432.2L684.2,433.7L682.0,435.1Z" fill="#6ecc5d"/><path d="M695.3,418.8L697.5,416.4L695.9,419.8L693.6,421.8Z" fill="#d23400"/><path d="M707.0,417.9L709.2,419.0L707.5,415.7L705.3,414.3Z" fill="#db0200"/><path d="M718.6,434.6L720.9,433.3L719.2,430.7L717.0,430.8Z" fill="#aee133"/><path d="M722.5,435.0L724.7,432.9L723.1,432.1L720.9,433.3Z" fill="#9bdb3f"/><path d="M734.2,429.9L736.4,430.3L734.7,430.3L732.5,430.0Z" fill="#ccca00"/><path d="M745.9,435.6L748.1,436.8L746.4,435.8L744.2,434.4Z" fill="#7acc51"/><path d="M757.5,441.1L759.7,440.9L758.1,440.0L755.9,440.1Z" fill="#32cc99"/><path d="M769.2,442.5L771.4,441.9L769.7,441.1L767.5,441.7Z" fill="#26cca5"/><path d="M675.9,437.7L678.1,436.7L676.4,436.5L674.2,437.3Z" fill="#33cc98"/><path d="M765.3,442.2L767.5,441.7L765.9,440.9L763.6,441.4Z" fill="#27cca4"/><path d="M687.5,430.1L689.7,427.6L688.1,430.3L685.9,432.2Z" fill="#aecc1d"/><path d="M699.2,414.6L701.4,413.4L699.7,415.2L697.5,416.4Z" fill="#b50000"/><path d="M710.9,424.4L713.1,425.5L711.4,420.8L709.2,419.0Z" fill="#e26700"/><path d="M730.3,430.9L732.5,430.0L730.9,430.5L728.6,431.2Z" fill="#c1cc0a"/><path d="M742.0,432.9L744.2,434.4L742.5,433.5L740.3,432.0Z" fill="#a0cc2b"/><path d="M753.6,439.9L755.9,440.1L754.2,439.1L752.0,438.8Z" fill="#41cc8a"/><path d="M677.5,437.8L679.7,436.5L678.1,436.7L675.9,437.7Z" fill="#3dcc8e"/><path d="M763.1,442.7L765.3,442.2L763.6,441.4L761.4,441.8Z" fill="#29cca2"/><path d="M669.7,438.8L672.0,438.1L670.3,437.5L668.1,438.1Z" fill="#28cca3"/><path d="M681.4,436.0L683.6,434.1L682.0,435.1L679.7,436.5Z" fill="#5ccc6f"/><path d="M689.2,427.8L691.4,424.6L689.7,427.6L687.5,430.1Z" fill="#ccb400"/><path d="M693.1,422.1L695.3,418.8L693.6,421.8L691.4,424.6Z" fill="#cc5400"/><path d="M700.9,415.3L703.1,414.1L701.4,413.4L699.2,414.6Z" fill="#a50000"/><path d="M704.7,417.7L707.0,417.9L705.3,414.3L703.1,414.1Z" fill="#cb0000"/><path d="M712.5,430.6L714.7,430.8L713.1,425.5L710.9,424.4Z" fill="#e6be00"/><path d="M716.4,435.6L718.6,434.6L717.0,430.8L714.7,430.8Z" fill="#b1e534"/><path d="M720.3,437.2L722.5,435.0L720.9,433.3L718.6,434.6Z" fill="#8be155"/><path d="M724.2,435.8L726.4,433.1L724.7,432.9L722.5,435.0Z" fill="#98d941"/><path d="M728.1,433.0L730.3,430.9L728.6,431.2L726.4,433.1Z" fill="#b5cd17"/><path d="M735.9,430.3L738.1,430.7L736.4,430.3L734.2,429.9Z" fill="#ccc100"/><path d="M739.7,431.7L742.0,432.9L740.3,432.0L738.1,430.7Z" fill="#c0cc0b"/><path d="M747.5,437.1L749.7,438.1L748.1,436.8L745.9,435.6Z" fill="#72cc59"/><path d="M751.4,439.5L753.6,439.9L752.0,438.8L749.7,438.1Z" fill="#51cc7a"/><path d="M759.2,442.1L761.4,441.8L759.7,440.9L757.5,441.1Z" fill="#2fcc9c"/><path d="M770.9,443.2L773.1,442.7L771.4,441.9L769.2,442.5Z" fill="#26cca5"/><path d="M673.6,438.6L675.9,437.7L674.2,437.3L672.0,438.1Z" fill="#2fcc9c"/><path d="M685.3,432.7L687.5,430.1L685.9,432.2L683.6,434.1Z" fill="#93cc38"/><path d="M697.0,417.2L699.2,414.6L697.5,416.4L695.3,418.8Z" fill="#c90000"/><path d="M708.6,423.6L710.9,424.4L709.2,419.0L707.0,417.9Z" fill="#e54700"/><path d="M732.0,430.8L734.2,429.9L732.5,430.0L730.3,430.9Z" fill="#ccc500"/><path d="M743.6,434.3L745.9,435.6L744.2,434.4L742.0,432.9Z" fill="#9acc31"/><path d="M755.3,441.1L757.5,441.1L755.9,440.1L753.6,439.9Z" fill="#3bcc90"/><path d="M767.0,443.0L769.2,442.5L767.5,441.7L765.3,442.2Z" fill="#27cca4"/><path d="M675.3,438.9L677.5,437.8L675.9,437.7L673.6,438.6Z" fill="#36cc95"/><path d="M687.0,431.2L689.2,427.8L687.5,430.1L685.3,432.7Z" fill="#bdcc0e"/><path d="M698.6,417.9L700.9,415.3L699.2,414.6L697.0,417.2Z" fill="#c40000"/><path d="M710.3,430.2L712.5,430.6L710.9,424.4L708.6,423.6Z" fill="#e8a900"/><path d="M718.1,439.2L720.3,437.2L718.6,434.6L716.4,435.6Z" fill="#7ae369"/><path d="M722.0,438.7L724.2,435.8L722.5,435.0L720.3,437.2Z" fill="#7adf65"/><path d="M729.7,433.1L732.0,430.8L730.3,430.9L728.1,433.0Z" fill="#cad309"/><path d="M741.4,433.3L743.6,434.3L742.0,432.9L739.7,431.7Z" fill="#b8cc13"/><path d="M753.1,440.9L755.3,441.1L753.6,439.9L751.4,439.5Z" fill="#49cc82"/><path d="M764.7,443.5L767.0,443.0L765.3,442.2L763.1,442.7Z" fill="#28cca3"/><path d="M667.5,439.4L669.7,438.8L668.1,438.1L665.9,438.8Z" fill="#27cca4"/><path d="M679.2,437.7L681.4,436.0L679.7,436.5L677.5,437.8Z" fill="#4dcc7e"/><path d="M760.9,443.1L763.1,442.7L761.4,441.8L759.2,442.1Z" fill="#2ccc9f"/><path d="M772.5,444.0L774.7,443.4L773.1,442.7L770.9,443.2Z" fill="#25cca6"/><path d="M671.4,439.4L673.6,438.6L672.0,438.1L669.7,438.8Z" fill="#2bcca0"/><path d="M683.1,435.2L685.3,432.7L683.6,434.1L681.4,436.0Z" fill="#78cc53"/><path d="M690.9,426.0L693.1,422.1L691.4,424.6L689.2,427.8Z" fill="#cc8000"/><path d="M694.7,420.9L697.0,417.2L695.3,418.8L693.1,422.1Z" fill="#cc2500"/><path d="M702.5,418.8L704.7,417.7L703.1,414.1L700.9,415.3Z" fill="#cc0000"/><path d="M706.4,423.5L708.6,423.6L707.0,417.9L704.7,417.7Z" fill="#e73200"/><path d="M714.2,436.2L716.4,435.6L714.7,430.8L712.5,430.6Z" fill="#b7e62f"/><path d="M725.9,436.1L728.1,433.0L726.4,433.1L724.2,435.8Z" fill="#a0da39"/><path d="M733.6,431.2L735.9,430.3L734.2,429.9L732.0,430.8Z" fill="#ccbb00"/><path d="M737.5,431.4L739.7,431.7L738.1,430.7L735.9,430.3Z" fill="#ccc000"/><path d="M745.3,436.0L747.5,437.1L745.9,435.6L743.6,434.3Z" fill="#8fcc3c"/><path d="M749.2,438.8L751.4,439.5L749.7,438.1L747.5,437.1Z" fill="#67cc64"/><path d="M757.0,442.3L759.2,442.1L757.5,441.1L755.3,441.1Z" fill="#36cc95"/><path d="M768.6,443.8L770.9,443.2L769.2,442.5L767.0,443.0Z" fill="#26cca5"/><path d="M673.1,439.9L675.3,438.9L673.6,438.6L671.4,439.4Z" fill="#30cc9b"/><path d="M684.7,434.3L687.0,431.2L685.3,432.7L683.1,435.2Z" fill="#98cc33"/><path d="M696.4,421.6L698.6,417.9L697.0,417.2L694.7,420.9Z" fill="#e11500"/><path d="M708.1,430.2L710.3,430.2L708.6,423.6L706.4,423.5Z" fill="#e99900"/><path d="M719.7,441.3L722.0,438.7L720.3,437.2L718.1,439.2Z" fill="#5ae186"/><path d="M731.4,433.6L733.6,431.2L732.0,430.8L729.7,433.1Z" fill="#d9d900"/><path d="M743.1,435.3L745.3,436.0L743.6,434.3L741.4,433.3Z" fill="#a9cc22"/><path d="M754.7,442.3L757.0,442.3L755.3,441.1L753.1,440.9Z" fill="#40cd8c"/><path d="M766.4,444.4L768.6,443.8L767.0,443.0L764.7,443.5Z" fill="#27cca5"/><path d="M665.3,440.1L667.5,439.4L665.9,438.8L663.6,439.4Z" fill="#26cca5"/><path d="M677.0,439.1L679.2,437.7L677.5,437.8L675.3,438.9Z" fill="#40cc8b"/><path d="M688.6,429.9L690.9,426.0L689.2,427.8L687.0,431.2Z" fill="#ccb100"/><path d="M700.3,421.1L702.5,418.8L700.9,415.3L698.6,417.9Z" fill="#e40000"/><path d="M712.0,436.2L714.2,436.2L712.5,430.6L710.3,430.2Z" fill="#c2e724"/><path d="M715.9,440.3L718.1,439.2L716.4,435.6L714.2,436.2Z" fill="#70e474"/><path d="M723.6,439.5L725.9,436.1L724.2,435.8L722.0,438.7Z" fill="#78de66"/><path d="M727.5,436.4L729.7,433.1L728.1,433.0L725.9,436.1Z" fill="#addc2f"/><path d="M739.2,433.0L741.4,433.3L739.7,431.7L737.5,431.4Z" fill="#cfcd00"/><path d="M750.9,440.6L753.1,440.9L751.4,439.5L749.2,438.8Z" fill="#59cc72"/><path d="M762.5,444.0L764.7,443.5L763.1,442.7L760.9,443.1Z" fill="#2acca2"/><path d="M774.2,444.8L776.4,444.2L774.7,443.4L772.5,444.0Z" fill="#25cca6"/><path d="M669.2,440.1L671.4,439.4L669.7,438.8L667.5,439.4Z" fill="#29cca2"/><path d="M680.9,437.3L683.1,435.2L681.4,436.0L679.2,437.7Z" fill="#60cc6b"/><path d="M758.6,443.4L760.9,443.1L759.2,442.1L757.0,442.3Z" fill="#31cc9b"/><path d="M770.3,444.6L772.5,444.0L770.9,443.2L768.6,443.8Z" fill="#26cca5"/><path d="M692.5,425.2L694.7,420.9L693.1,422.1L690.9,426.0Z" fill="#d75e00"/><path d="M704.2,424.3L706.4,423.5L704.7,417.7L702.5,418.8Z" fill="#e82f00"/><path d="M735.3,432.3L737.5,431.4L735.9,430.3L733.6,431.2Z" fill="#d4c300"/><path d="M747.0,438.1L749.2,438.8L747.5,437.1L745.3,436.0Z" fill="#7ecc4d"/><path d="M670.9,440.7L673.1,439.9L671.4,439.4L669.2,440.1Z" fill="#2ccc9f"/><path d="M682.5,437.0L684.7,434.3L683.1,435.2L680.9,437.3Z" fill="#76cc55"/><path d="M756.4,443.7L758.6,443.4L757.0,442.3L754.7,442.3Z" fill="#38cf97"/><path d="M768.1,445.1L770.3,444.6L768.6,443.8L766.4,444.4Z" fill="#26cca5"/><path d="M663.1,440.7L665.3,440.1L663.6,439.4L661.4,440.0Z" fill="#26cca5"/><path d="M674.7,440.3L677.0,439.1L675.3,438.9L673.1,439.9Z" fill="#36cc95"/><path d="M686.4,433.6L688.6,429.9L687.0,431.2L684.7,434.3Z" fill="#bcd316"/><path d="M694.2,426.1L696.4,421.6L694.7,420.9L692.5,425.2Z" fill="#e35400"/><path d="M698.1,424.6L700.3,421.1L698.6,417.9L696.4,421.6Z" fill="#e72c00"/><path d="M705.9,430.7L708.1,430.2L706.4,423.5L704.2,424.3Z" fill="#ea9400"/><path d="M709.7,436.2L712.0,436.2L710.3,430.2L708.1,430.2Z" fill="#d0e818"/><path d="M713.6,440.6L715.9,440.3L714.2,436.2L712.0,436.2Z" fill="#71e472"/><path d="M717.5,442.7L719.7,441.3L718.1,439.2L715.9,440.3Z" fill="#44e09b"/><path d="M721.4,442.3L723.6,439.5L722.0,438.7L719.7,441.3Z" fill="#4ede90"/><path d="M725.3,440.0L727.5,436.4L725.9,436.1L723.6,439.5Z" fill="#7ddf61"/><path d="M729.2,436.9L731.4,433.6L729.7,433.1L727.5,436.4Z" fill="#b6df28"/><path d="M733.1,434.6L735.3,432.3L733.6,431.2L731.4,433.6Z" fill="#dddd00"/><path d="M740.9,435.2L743.1,435.3L741.4,433.3L739.2,433.0Z" fill="#c6d710"/><path d="M744.7,437.6L747.0,438.1L745.3,436.0L743.1,435.3Z" fill="#9bd439"/><path d="M752.5,442.3L754.7,442.3L753.1,440.9L750.9,440.6Z" fill="#4dd183"/><path d="M764.2,444.9L766.4,444.4L764.7,443.5L762.5,444.0Z" fill="#28cca4"/><path d="M775.9,445.5L778.1,444.9L776.4,444.2L774.2,444.8Z" fill="#25cca6"/><path d="M667.0,440.8L669.2,440.1L667.5,439.4L665.3,440.1Z" fill="#27cca4"/><path d="M678.6,439.1L680.9,437.3L679.2,437.7L677.0,439.1Z" fill="#4dcc7e"/><path d="M690.3,429.6L692.5,425.2L690.9,426.0L688.6,429.9Z" fill="#dc9f00"/><path d="M702.0,426.3L704.2,424.3L702.5,418.8L700.3,421.1Z" fill="#e94200"/><path d="M737.0,433.9L739.2,433.0L737.5,431.4L735.3,432.3Z" fill="#dad300"/><path d="M748.6,440.2L750.9,440.6L749.2,438.8L747.0,438.1Z" fill="#6fd263"/><path d="M760.3,444.5L762.5,444.0L760.9,443.1L758.6,443.4Z" fill="#2dcda0"/><path d="M772.0,445.3L774.2,444.8L772.5,444.0L770.3,444.6Z" fill="#25cca6"/><path d="M668.6,441.5L670.9,440.7L669.2,440.1L667.0,440.8Z" fill="#29cca2"/><path d="M680.3,439.2L682.5,437.0L680.9,437.3L678.6,439.1Z" fill="#5dcf71"/><path d="M692.0,430.6L694.2,426.1L692.5,425.2L690.3,429.6Z" fill="#e49b00"/><path d="M703.6,432.3L705.9,430.7L704.2,424.3L702.0,426.3Z" fill="#eaa000"/><path d="M711.4,440.4L713.6,440.6L712.0,436.2L709.7,436.2Z" fill="#7be368"/><path d="M715.3,443.1L717.5,442.7L715.9,440.3L713.6,440.6Z" fill="#3fdd9d"/><path d="M723.1,443.0L725.3,440.0L723.6,439.5L721.4,442.3Z" fill="#4edd8f"/><path d="M727.0,440.6L729.2,436.9L727.5,436.4L725.3,440.0Z" fill="#83e05d"/><path d="M734.7,436.1L737.0,433.9L735.3,432.3L733.1,434.6Z" fill="#d5e00a"/><path d="M746.4,440.2L748.6,440.2L747.0,438.1L744.7,437.6Z" fill="#84d955"/><path d="M758.1,445.0L760.3,444.5L758.6,443.4L756.4,443.7Z" fill="#31d09f"/><path d="M769.7,445.9L772.0,445.3L770.3,444.6L768.1,445.1Z" fill="#26cca6"/><path d="M672.5,441.3L674.7,440.3L673.1,439.9L670.9,440.7Z" fill="#2fcc9c"/><path d="M684.2,436.8L686.4,433.6L684.7,434.3L682.5,437.0Z" fill="#92d543"/><path d="M754.2,444.0L756.4,443.7L754.7,442.3L752.5,442.3Z" fill="#40d392"/><path d="M765.9,445.7L768.1,445.1L766.4,444.4L764.2,444.9Z" fill="#27cca5"/><path d="M660.9,441.3L663.1,440.7L661.4,440.0L659.2,440.6Z" fill="#26cca5"/><path d="M664.7,441.4L667.0,440.8L665.3,440.1L663.1,440.7Z" fill="#26cca5"/><path d="M676.4,440.6L678.6,439.1L677.0,439.1L674.7,440.3Z" fill="#3ecc8d"/><path d="M688.1,433.7L690.3,429.6L688.6,429.9L686.4,433.6Z" fill="#dddd00"/><path d="M695.9,428.9L698.1,424.6L696.4,421.6L694.2,426.1Z" fill="#e86b00"/><path d="M699.7,429.4L702.0,426.3L700.3,421.1L698.1,424.6Z" fill="#ea6a00"/><path d="M707.5,436.4L709.7,436.2L708.1,430.2L705.9,430.7Z" fill="#d8e810"/><path d="M719.2,444.0L721.4,442.3L719.7,441.3L717.5,442.7Z" fill="#32daa8"/><path d="M730.9,437.9L733.1,434.6L731.4,433.6L729.2,436.9Z" fill="#b8e128"/><path d="M738.6,436.1L740.9,435.2L739.2,433.0L737.0,433.9Z" fill="#d0de0d"/><path d="M742.5,437.8L744.7,437.6L743.1,435.3L740.9,435.2Z" fill="#b0db2b"/><path d="M750.3,442.4L752.5,442.3L750.9,440.6L748.6,440.2Z" fill="#5cd67a"/><path d="M762.0,445.4L764.2,444.9L762.5,444.0L760.3,444.5Z" fill="#29cea4"/><path d="M773.6,446.1L775.9,445.5L774.2,444.8L772.0,445.3Z" fill="#25cca6"/><path d="M777.5,446.3L779.7,445.7L778.1,444.9L775.9,445.5Z" fill="#25cca6"/><path d="M666.4,442.1L668.6,441.5L667.0,440.8L664.7,441.4Z" fill="#27cca4"/><path d="M678.1,441.0L680.3,439.2L678.6,439.1L676.4,440.6Z" fill="#49d086"/><path d="M689.7,434.9L692.0,430.6L690.3,429.6L688.1,433.7Z" fill="#e4df00"/><path d="M701.4,434.8L703.6,432.3L702.0,426.3L699.7,429.4Z" fill="#eac000"/><path d="M713.1,442.7L715.3,443.1L713.6,440.6L711.4,440.4Z" fill="#48d991"/><path d="M724.7,443.5L727.0,440.6L725.3,440.0L723.1,443.0Z" fill="#51dd8c"/><path d="M736.4,438.2L738.6,436.1L737.0,433.9L734.7,436.1Z" fill="#c3e21e"/><path d="M748.1,442.9L750.3,442.4L748.6,440.2L746.4,440.2Z" fill="#68dc73"/><path d="M759.7,446.1L762.0,445.4L760.3,444.5L758.1,445.0Z" fill="#2bd0a5"/><path d="M771.4,446.7L773.6,446.1L772.0,445.3L769.7,445.9Z" fill="#25cca6"/><path d="M658.6,441.9L660.9,441.3L659.2,440.6L657.0,441.2Z" fill="#25cca6"/><path d="M670.3,442.1L672.5,441.3L670.9,440.7L668.6,441.5Z" fill="#2bcca0"/><path d="M682.0,439.4L684.2,436.8L682.5,437.0L680.3,439.2Z" fill="#6ed667"/><path d="M693.6,433.2L695.9,428.9L694.2,426.1L692.0,430.6Z" fill="#e8b200"/><path d="M705.3,437.5L707.5,436.4L705.9,430.7L703.6,432.3Z" fill="#d3e915"/><path d="M709.2,440.4L711.4,440.4L709.7,436.2L707.5,436.4Z" fill="#86e35d"/><path d="M717.0,444.2L719.2,444.0L717.5,442.7L715.3,443.1Z" fill="#29cfa5"/><path d="M720.9,444.6L723.1,443.0L721.4,442.3L719.2,444.0Z" fill="#2ed5a7"/><path d="M728.6,441.4L730.9,437.9L729.2,436.9L727.0,440.6Z" fill="#84e15c"/><path d="M732.5,439.2L734.7,436.1L733.1,434.6L730.9,437.9Z" fill="#b1e230"/><path d="M744.2,440.8L746.4,440.2L744.7,437.6L742.5,437.8Z" fill="#90df4e"/><path d="M755.9,445.5L758.1,445.0L756.4,443.7L754.2,444.0Z" fill="#35d49f"/><path d="M767.5,446.5L769.7,445.9L768.1,445.1L765.9,445.7Z" fill="#26cca6"/><path d="M779.2,447.0L781.4,446.4L779.7,445.7L777.5,446.3Z" fill="#25cca6"/><path d="M674.2,441.8L676.4,440.6L674.7,440.3L672.5,441.3Z" fill="#35cd98"/><path d="M685.9,437.3L688.1,433.7L686.4,433.6L684.2,436.8Z" fill="#a6dd37"/><path d="M752.0,444.5L754.2,444.0L752.5,442.3L750.3,442.4Z" fill="#48d890"/><path d="M763.6,446.3L765.9,445.7L764.2,444.9L762.0,445.4Z" fill="#27cea6"/><path d="M662.5,442.1L664.7,441.4L663.1,440.7L660.9,441.3Z" fill="#26cca5"/><path d="M697.5,433.1L699.7,429.4L698.1,424.6L695.9,428.9Z" fill="#eaa300"/><path d="M740.3,438.9L742.5,437.8L740.9,435.2L738.6,436.1Z" fill="#b5e12b"/><path d="M775.3,446.9L777.5,446.3L775.9,445.5L773.6,446.1Z" fill="#25cca6"/><path d="M675.9,442.3L678.1,441.0L676.4,440.6L674.2,441.8Z" fill="#3bcf94"/><path d="M687.5,438.5L689.7,434.9L688.1,433.7L685.9,437.3Z" fill="#aae238"/><path d="M749.7,445.4L752.0,444.5L750.3,442.4L748.1,442.9Z" fill="#4cdd91"/><path d="M761.4,447.0L763.6,446.3L762.0,445.4L759.7,446.1Z" fill="#27d0a8"/><path d="M656.4,442.5L658.6,441.9L657.0,441.2L654.7,441.8Z" fill="#25cca6"/><path d="M664.2,442.8L666.4,442.1L664.7,441.4L662.5,442.1Z" fill="#26cca5"/><path d="M668.1,442.8L670.3,442.1L668.6,441.5L666.4,442.1Z" fill="#28cca3"/><path d="M679.7,441.5L682.0,439.4L680.3,439.2L678.1,441.0Z" fill="#53d582"/><path d="M691.4,437.3L693.6,433.2L692.0,430.6L689.7,434.9Z" fill="#d7e70f"/><path d="M699.2,438.0L701.4,434.8L699.7,429.4L697.5,433.1Z" fill="#e4eb06"/><path d="M703.1,439.6L705.3,437.5L703.6,432.3L701.4,434.8Z" fill="#bce92c"/><path d="M707.0,441.2L709.2,440.4L707.5,436.4L705.3,437.5Z" fill="#87e45c"/><path d="M710.9,442.4L713.1,442.7L711.4,440.4L709.2,440.4Z" fill="#55d882"/><path d="M714.7,443.6L717.0,444.2L715.3,443.1L713.1,442.7Z" fill="#34cc97"/><path d="M718.6,444.6L720.9,444.6L719.2,444.0L717.0,444.2Z" fill="#27cca4"/><path d="M722.5,444.9L724.7,443.5L723.1,443.0L720.9,444.6Z" fill="#31d2a0"/><path d="M726.4,444.0L728.6,441.4L727.0,440.6L724.7,443.5Z" fill="#53dd89"/><path d="M730.3,442.3L732.5,439.2L730.9,437.9L728.6,441.4Z" fill="#80e161"/><path d="M734.2,441.0L736.4,438.2L734.7,436.1L732.5,439.2Z" fill="#a1e342"/><path d="M738.1,440.9L740.3,438.9L738.6,436.1L736.4,438.2Z" fill="#a6e43d"/><path d="M745.9,443.9L748.1,442.9L746.4,440.2L744.2,440.8Z" fill="#6ce174"/><path d="M757.5,446.8L759.7,446.1L758.1,445.0L755.9,445.5Z" fill="#2bd4a8"/><path d="M769.2,447.3L771.4,446.7L769.7,445.9L767.5,446.5Z" fill="#25cca6"/><path d="M773.1,447.5L775.3,446.9L773.6,446.1L771.4,446.7Z" fill="#25cca6"/><path d="M780.9,447.8L783.1,447.2L781.4,446.4L779.2,447.0Z" fill="#25cca6"/><path d="M660.3,442.7L662.5,442.1L660.9,441.3L658.6,441.9Z" fill="#25cca6"/><path d="M672.0,442.7L674.2,441.8L672.5,441.3L670.3,442.1Z" fill="#2ecd9e"/><path d="M683.6,440.1L685.9,437.3L684.2,436.8L682.0,439.4Z" fill="#79dc62"/><path d="M695.3,437.1L697.5,433.1L695.9,428.9L693.6,433.2Z" fill="#eae500"/><path d="M742.0,442.2L744.2,440.8L742.5,437.8L740.3,438.9Z" fill="#8fe353"/><path d="M753.6,446.4L755.9,445.5L754.2,444.0L752.0,444.5Z" fill="#36d9a2"/><path d="M765.3,447.2L767.5,446.5L765.9,445.7L763.6,446.3Z" fill="#26cda7"/><path d="M777.0,447.6L779.2,447.0L777.5,446.3L775.3,446.9Z" fill="#25cca6"/><path d="M654.2,443.1L656.4,442.5L654.7,441.8L652.5,442.3Z" fill="#25cca6"/><path d="M662.0,443.4L664.2,442.8L662.5,442.1L660.3,442.7Z" fill="#26cca5"/><path d="M673.6,443.4L675.9,442.3L674.2,441.8L672.0,442.7Z" fill="#31cf9d"/><path d="M685.3,441.4L687.5,438.5L685.9,437.3L683.6,440.1Z" fill="#79e067"/><path d="M697.0,441.5L699.2,438.0L697.5,433.1L695.3,437.1Z" fill="#abea3f"/><path d="M704.7,443.0L707.0,441.2L705.3,437.5L703.1,439.6Z" fill="#78e66d"/><path d="M708.6,443.0L710.9,442.4L709.2,440.4L707.0,441.2Z" fill="#5dda7d"/><path d="M716.4,443.6L718.6,444.6L717.0,444.2L714.7,443.6Z" fill="#36cc95"/><path d="M720.3,444.7L722.5,444.9L720.9,444.6L718.6,444.6Z" fill="#2ecc9d"/><path d="M728.1,444.7L730.3,442.3L728.6,441.4L726.4,444.0Z" fill="#54dc88"/><path d="M732.0,443.8L734.2,441.0L732.5,439.2L730.3,442.3Z" fill="#75e26d"/><path d="M739.7,444.4L742.0,442.2L740.3,438.9L738.1,440.9Z" fill="#7ce569"/><path d="M751.4,447.6L753.6,446.4L752.0,444.5L749.7,445.4Z" fill="#32ddaa"/><path d="M763.1,447.9L765.3,447.2L763.6,446.3L761.4,447.0Z" fill="#25cfaa"/><path d="M774.7,448.2L777.0,447.6L775.3,446.9L773.1,447.5Z" fill="#25cca6"/><path d="M782.5,448.5L784.7,447.9L783.1,447.2L780.9,447.8Z" fill="#25cca6"/><path d="M677.5,443.0L679.7,441.5L678.1,441.0L675.9,442.3Z" fill="#40d393"/><path d="M689.2,440.7L691.4,437.3L689.7,434.9L687.5,438.5Z" fill="#9ae54b"/><path d="M747.5,447.0L749.7,445.4L748.1,442.9L745.9,443.9Z" fill="#46e29b"/><path d="M759.2,447.9L761.4,447.0L759.7,446.1L757.5,446.8Z" fill="#25d3ad"/><path d="M658.1,443.3L660.3,442.7L658.6,441.9L656.4,442.5Z" fill="#25cca6"/><path d="M665.9,443.5L668.1,442.8L666.4,442.1L664.2,442.8Z" fill="#27cca4"/><path d="M669.7,443.5L672.0,442.7L670.3,442.1L668.1,442.8Z" fill="#2acca2"/><path d="M681.4,442.2L683.6,440.1L682.0,439.4L679.7,441.5Z" fill="#58da81"/><path d="M693.1,440.8L695.3,437.1L693.6,433.2L691.4,437.3Z" fill="#ade93b"/><path d="M700.9,442.5L703.1,439.6L701.4,434.8L699.2,438.0Z" fill="#95e954"/><path d="M712.5,443.0L714.7,443.6L713.1,442.7L710.9,442.4Z" fill="#45cc86"/><path d="M724.2,445.2L726.4,444.0L724.7,443.5L722.5,444.9Z" fill="#36ce98"/><path d="M735.9,443.6L738.1,440.9L736.4,438.2L734.2,441.0Z" fill="#85e55f"/><path d="M743.6,445.7L745.9,443.9L744.2,440.8L742.0,442.2Z" fill="#62e482"/><path d="M755.3,447.9L757.5,446.8L755.9,445.5L753.6,446.4Z" fill="#29d8af"/><path d="M767.0,447.9L769.2,447.3L767.5,446.5L765.3,447.2Z" fill="#25cda7"/><path d="M770.9,448.1L773.1,447.5L771.4,446.7L769.2,447.3Z" fill="#25cca6"/><path d="M778.6,448.4L780.9,447.8L779.2,447.0L777.0,447.6Z" fill="#25cca6"/><path d="M659.7,444.0L662.0,443.4L660.3,442.7L658.1,443.3Z" fill="#25cca6"/><path d="M671.4,444.3L673.6,443.4L672.0,442.7L669.7,443.5Z" fill="#2bcea2"/><path d="M683.1,443.5L685.3,441.4L683.6,440.1L681.4,442.2Z" fill="#56dd87"/><path d="M694.7,444.8L697.0,441.5L695.3,437.1L693.1,440.8Z" fill="#72e977"/><path d="M706.4,444.7L708.6,443.0L707.0,441.2L704.7,443.0Z" fill="#53df8c"/><path d="M718.1,443.3L720.3,444.7L718.6,444.6L716.4,443.6Z" fill="#42cc89"/><path d="M729.7,445.7L732.0,443.8L730.3,442.3L728.1,444.7Z" fill="#4fde8e"/><path d="M741.4,448.3L743.6,445.7L742.0,442.2L739.7,444.4Z" fill="#49e79e"/><path d="M753.1,449.4L755.3,447.9L753.6,446.4L751.4,447.6Z" fill="#1fdcbd"/><path d="M764.7,448.7L767.0,447.9L765.3,447.2L763.1,447.9Z" fill="#24ceaa"/><path d="M776.4,449.0L778.6,448.4L777.0,447.6L774.7,448.2Z" fill="#25cca6"/><path d="M652.0,443.7L654.2,443.1L652.5,442.3L650.3,442.9Z" fill="#25cca6"/><path d="M655.9,443.8L658.1,443.3L656.4,442.5L654.2,443.1Z" fill="#25cca6"/><path d="M663.6,444.1L665.9,443.5L664.2,442.8L662.0,443.4Z" fill="#26cca5"/><path d="M675.3,444.1L677.5,443.0L675.9,442.3L673.6,443.4Z" fill="#34d19d"/><path d="M687.0,443.4L689.2,440.7L687.5,438.5L685.3,441.4Z" fill="#6ae379"/><path d="M698.6,445.7L700.9,442.5L699.2,438.0L697.0,441.5Z" fill="#64e985"/><path d="M702.5,445.8L704.7,443.0L703.1,439.6L700.9,442.5Z" fill="#57e78f"/><path d="M710.3,443.3L712.5,443.0L710.9,442.4L708.6,443.0Z" fill="#4fcc7c"/><path d="M714.2,442.7L716.4,443.6L714.7,443.6L712.5,443.0Z" fill="#4dcc7e"/><path d="M722.0,444.5L724.2,445.2L722.5,444.9L720.3,444.7Z" fill="#38cc93"/><path d="M725.9,445.4L728.1,444.7L726.4,444.0L724.2,445.2Z" fill="#3bcc90"/><path d="M733.6,446.2L735.9,443.6L734.2,441.0L732.0,443.8Z" fill="#5ee486"/><path d="M737.5,447.1L739.7,444.4L738.1,440.9L735.9,443.6Z" fill="#5be78b"/><path d="M749.2,449.6L751.4,447.6L749.7,445.4L747.5,447.0Z" fill="#24e2bd"/><path d="M760.9,448.8L763.1,447.9L761.4,447.0L759.2,447.9Z" fill="#22d1af"/><path d="M772.5,448.8L774.7,448.2L773.1,447.5L770.9,448.1Z" fill="#25cca6"/><path d="M780.3,449.1L782.5,448.5L780.9,447.8L778.6,448.4Z" fill="#25cca6"/><path d="M784.2,449.3L786.4,448.7L784.7,447.9L782.5,448.5Z" fill="#25cca6"/><path d="M679.2,443.8L681.4,442.2L679.7,441.5L677.5,443.0Z" fill="#42d794"/><path d="M690.9,443.8L693.1,440.8L691.4,437.3L689.2,440.7Z" fill="#75e772"/><path d="M745.3,449.3L747.5,447.0L745.9,443.9L743.6,445.7Z" fill="#33e5b2"/><path d="M757.0,449.0L759.2,447.9L757.5,446.8L755.3,447.9Z" fill="#20d6b6"/><path d="M667.5,444.2L669.7,443.5L668.1,442.8L665.9,443.5Z" fill="#28cca4"/><path d="M768.6,448.7L770.9,448.1L769.2,447.3L767.0,447.9Z" fill="#25cca7"/><path d="M657.5,444.6L659.7,444.0L658.1,443.3L655.9,443.8Z" fill="#25cca6"/><path d="M778.1,449.7L780.3,449.1L778.6,448.4L776.4,449.0Z" fill="#25cca6"/><path d="M680.9,445.0L683.1,443.5L681.4,442.2L679.2,443.8Z" fill="#3fda9b"/><path d="M692.5,447.3L694.7,444.8L693.1,440.8L690.9,443.8Z" fill="#42e7a5"/><path d="M743.1,452.3L745.3,449.3L743.6,445.7L741.4,448.3Z" fill="#11e8d6"/><path d="M754.7,450.6L757.0,449.0L755.3,447.9L753.1,449.4Z" fill="#13dac6"/><path d="M649.7,444.3L652.0,443.7L650.3,442.9L648.1,443.5Z" fill="#25cca6"/><path d="M661.4,444.8L663.6,444.1L662.0,443.4L659.7,444.0Z" fill="#26cca6"/><path d="M669.2,445.0L671.4,444.3L669.7,443.5L667.5,444.2Z" fill="#28cda4"/><path d="M673.1,445.0L675.3,444.1L673.6,443.4L671.4,444.3Z" fill="#2dcfa2"/><path d="M684.7,445.2L687.0,443.4L685.3,441.4L683.1,443.5Z" fill="#48e097"/><path d="M696.4,448.6L698.6,445.7L697.0,441.5L694.7,444.8Z" fill="#32e8b5"/><path d="M700.3,448.9L702.5,445.8L700.9,442.5L698.6,445.7Z" fill="#2ae7bc"/><path d="M704.2,447.6L706.4,444.7L704.7,443.0L702.5,445.8Z" fill="#35e2ad"/><path d="M708.1,445.1L710.3,443.3L708.6,443.0L706.4,444.7Z" fill="#49d48a"/><path d="M712.0,442.8L714.2,442.7L712.5,443.0L710.3,443.3Z" fill="#5bcc70"/><path d="M715.9,442.0L718.1,443.3L716.4,443.6L714.2,442.7Z" fill="#5fce6e"/><path d="M719.7,442.8L722.0,444.5L720.3,444.7L718.1,443.3Z" fill="#54d07c"/><path d="M723.6,444.4L725.9,445.4L724.2,445.2L722.0,444.5Z" fill="#44cc87"/><path d="M727.5,446.1L729.7,445.7L728.1,444.7L725.9,445.4Z" fill="#3dcd90"/><path d="M731.4,447.8L733.6,446.2L732.0,443.8L729.7,445.7Z" fill="#3fe1a2"/><path d="M735.3,449.7L737.5,447.1L735.9,443.6L733.6,446.2Z" fill="#35e7b1"/><path d="M739.2,451.4L741.4,448.3L739.7,444.4L737.5,447.1Z" fill="#23e8c5"/><path d="M750.9,451.5L753.1,449.4L751.4,447.6L749.2,449.6Z" fill="#0be0d4"/><path d="M762.5,449.5L764.7,448.7L763.1,447.9L760.9,448.8Z" fill="#21cfae"/><path d="M766.4,449.4L768.6,448.7L767.0,447.9L764.7,448.7Z" fill="#23cda9"/><path d="M774.2,449.6L776.4,449.0L774.7,448.2L772.5,448.8Z" fill="#25cca6"/><path d="M785.9,450.0L788.1,449.4L786.4,448.7L784.2,449.3Z" fill="#25cca6"/><path d="M653.6,444.4L655.9,443.8L654.2,443.1L652.0,443.7Z" fill="#25cca6"/><path d="M665.3,444.9L667.5,444.2L665.9,443.5L663.6,444.1Z" fill="#26cca5"/><path d="M677.0,445.0L679.2,443.8L677.5,443.0L675.3,444.1Z" fill="#34d49f"/><path d="M688.6,446.0L690.9,443.8L689.2,440.7L687.0,443.4Z" fill="#4be59a"/><path d="M747.0,452.3L749.2,449.6L747.5,447.0L745.3,449.3Z" fill="#09e5dc"/><path d="M758.6,449.9L760.9,448.8L759.2,447.9L757.0,449.0Z" fill="#1bd4b8"/><path d="M770.3,449.4L772.5,448.8L770.9,448.1L768.6,448.7Z" fill="#25cca7"/><path d="M782.0,449.9L784.2,449.3L782.5,448.5L780.3,449.1Z" fill="#25cca6"/><path d="M655.3,445.2L657.5,444.6L655.9,443.8L653.6,444.4Z" fill="#25cca6"/><path d="M659.2,445.3L661.4,444.8L659.7,444.0L657.5,444.6Z" fill="#25cca6"/><path d="M667.0,445.6L669.2,445.0L667.5,444.2L665.3,444.9Z" fill="#27cca5"/><path d="M678.6,446.0L680.9,445.0L679.2,443.8L677.0,445.0Z" fill="#31d6a5"/><path d="M690.3,449.1L692.5,447.3L690.9,443.8L688.6,446.0Z" fill="#20e5c5"/><path d="M698.1,451.9L700.3,448.9L698.6,445.7L696.4,448.6Z" fill="#00e4e7"/><path d="M702.0,451.0L704.2,447.6L702.5,445.8L700.3,448.9Z" fill="#08e4dc"/><path d="M709.7,444.6L712.0,442.8L710.3,443.3L708.1,445.1Z" fill="#54cc77"/><path d="M713.6,441.9L715.9,442.0L714.2,442.7L712.0,442.8Z" fill="#71cc5a"/><path d="M721.4,442.3L723.6,444.4L722.0,444.5L719.7,442.8Z" fill="#68d56c"/><path d="M725.3,444.8L727.5,446.1L725.9,445.4L723.6,444.4Z" fill="#4bcc80"/><path d="M733.1,451.4L735.3,449.7L733.6,446.2L731.4,447.8Z" fill="#18e5cd"/><path d="M737.0,454.3L739.2,451.4L737.5,447.1L735.3,449.7Z" fill="#00e2e9"/><path d="M744.7,455.8L747.0,452.3L745.3,449.3L743.1,452.3Z" fill="#00c5e7"/><path d="M756.4,451.4L758.6,449.9L757.0,449.0L754.7,450.6Z" fill="#0fd7c8"/><path d="M768.1,450.1L770.3,449.4L768.6,448.7L766.4,449.4Z" fill="#24cca8"/><path d="M775.9,450.3L778.1,449.7L776.4,449.0L774.2,449.6Z" fill="#25cca6"/><path d="M779.7,450.5L782.0,449.9L780.3,449.1L778.1,449.7Z" fill="#25cca6"/><path d="M682.5,446.5L684.7,445.2L683.1,443.5L680.9,445.0Z" fill="#34dca8"/><path d="M694.2,450.9L696.4,448.6L694.7,444.8L692.5,447.3Z" fill="#0ae7dc"/><path d="M740.9,455.9L743.1,452.3L741.4,448.3L739.2,451.4Z" fill="#00cce9"/><path d="M752.5,452.8L754.7,450.6L753.1,449.4L750.9,451.5Z" fill="#00dbde"/><path d="M651.4,445.0L653.6,444.4L652.0,443.7L649.7,444.3Z" fill="#25cca6"/><path d="M663.1,445.5L665.3,444.9L663.6,444.1L661.4,444.8Z" fill="#26cca6"/><path d="M670.9,445.7L673.1,445.0L671.4,444.3L669.2,445.0Z" fill="#29cea5"/><path d="M674.7,445.8L677.0,445.0L675.3,444.1L673.1,445.0Z" fill="#2cd1a4"/><path d="M686.4,447.5L688.6,446.0L687.0,443.4L684.7,445.2Z" fill="#2fe1b2"/><path d="M705.9,448.2L708.1,445.1L706.4,444.7L704.2,447.6Z" fill="#2dddb0"/><path d="M717.5,441.1L719.7,442.8L718.1,443.3L715.9,442.0Z" fill="#7ad55b"/><path d="M729.2,448.0L731.4,447.8L729.7,445.7L727.5,446.1Z" fill="#35d9a4"/><path d="M748.6,454.5L750.9,451.5L749.2,449.6L747.0,452.3Z" fill="#00cde3"/><path d="M760.3,450.5L762.5,449.5L760.9,448.8L758.6,449.9Z" fill="#1ad1b6"/><path d="M764.2,450.2L766.4,449.4L764.7,448.7L762.5,449.5Z" fill="#21cead"/><path d="M772.0,450.2L774.2,449.6L772.5,448.8L770.3,449.4Z" fill="#25cca6"/><path d="M783.6,450.6L785.9,450.0L784.2,449.3L782.0,449.9Z" fill="#25cca6"/><path d="M653.1,445.8L655.3,445.2L653.6,444.4L651.4,445.0Z" fill="#25cca6"/><path d="M664.7,446.3L667.0,445.6L665.3,444.9L663.1,445.5Z" fill="#26cca6"/><path d="M676.4,446.8L678.6,446.0L677.0,445.0L674.7,445.8Z" fill="#2ad3a9"/><path d="M688.1,450.0L690.3,449.1L688.6,446.0L686.4,447.5Z" fill="#0de2d4"/><path d="M699.7,454.1L702.0,451.0L700.3,448.9L698.1,451.9Z" fill="#00bde4"/><path d="M711.4,443.5L713.6,441.9L712.0,442.8L709.7,444.6Z" fill="#6dcc5e"/><path d="M723.1,442.3L725.3,444.8L723.6,444.4L721.4,442.3Z" fill="#74d15c"/><path d="M734.7,456.3L737.0,454.3L735.3,449.7L733.1,451.4Z" fill="#00c1e8"/><path d="M746.4,458.2L748.6,454.5L747.0,452.3L744.7,455.8Z" fill="#009fe6"/><path d="M758.1,451.9L760.3,450.5L758.6,449.9L756.4,451.4Z" fill="#0fd3c4"/><path d="M769.7,450.8L772.0,450.2L770.3,449.4L768.1,450.1Z" fill="#24cca7"/><path d="M781.4,451.2L783.6,450.6L782.0,449.9L779.7,450.5Z" fill="#25cca6"/><path d="M695.9,454.0L698.1,451.9L696.4,448.6L694.2,450.9Z" fill="#00bee5"/><path d="M738.6,459.3L740.9,455.9L739.2,451.4L737.0,454.3Z" fill="#009bea"/><path d="M657.0,445.9L659.2,445.3L657.5,444.6L655.3,445.2Z" fill="#25cca6"/><path d="M660.9,446.1L663.1,445.5L661.4,444.8L659.2,445.3Z" fill="#25cca6"/><path d="M668.6,446.4L670.9,445.7L669.2,445.0L667.0,445.6Z" fill="#27cda6"/><path d="M680.3,447.3L682.5,446.5L680.9,445.0L678.6,446.0Z" fill="#29d8af"/><path d="M692.0,452.2L694.2,450.9L692.5,447.3L690.3,449.1Z" fill="#00d5e4"/><path d="M703.6,452.0L705.9,448.2L704.2,447.6L702.0,451.0Z" fill="#00dee0"/><path d="M707.5,447.9L709.7,444.6L708.1,445.1L705.9,448.2Z" fill="#38d79e"/><path d="M715.3,440.6L717.5,441.1L715.9,442.0L713.6,441.9Z" fill="#8fce3f"/><path d="M719.2,440.2L721.4,442.3L719.7,442.8L717.5,441.1Z" fill="#95d843"/><path d="M727.0,446.5L729.2,448.0L727.5,446.1L725.3,444.8Z" fill="#44cc87"/><path d="M730.9,451.6L733.1,451.4L731.4,447.8L729.2,448.0Z" fill="#11e2d0"/><path d="M742.5,459.7L744.7,455.8L743.1,452.3L740.9,455.9Z" fill="#0090e9"/><path d="M754.2,453.5L756.4,451.4L754.7,450.6L752.5,452.8Z" fill="#00d3da"/><path d="M765.9,450.8L768.1,450.1L766.4,449.4L764.2,450.2Z" fill="#22cdaa"/><path d="M773.6,450.9L775.9,450.3L774.2,449.6L772.0,450.2Z" fill="#25cca6"/><path d="M777.5,451.1L779.7,450.5L778.1,449.7L775.9,450.3Z" fill="#25cca6"/><path d="M684.2,448.3L686.4,447.5L684.7,445.2L682.5,446.5Z" fill="#21ddbc"/><path d="M750.3,455.7L752.5,452.8L750.9,451.5L748.6,454.5Z" fill="#00bae0"/><path d="M672.5,446.6L674.7,445.8L673.1,445.0L670.9,445.7Z" fill="#28cfa6"/><path d="M762.0,451.1L764.2,450.2L762.5,449.5L760.3,450.5Z" fill="#1ccfb3"/><path d="M662.5,446.9L664.7,446.3L663.1,445.5L660.9,446.1Z" fill="#25cca6"/><path d="M771.4,451.5L773.6,450.9L772.0,450.2L769.7,450.8Z" fill="#24cca7"/><path d="M685.9,450.4L688.1,450.0L686.4,447.5L684.2,448.3Z" fill="#07ddd6"/><path d="M697.5,456.4L699.7,454.1L698.1,451.9L695.9,454.0Z" fill="#0097e3"/><path d="M736.4,461.8L738.6,459.3L737.0,454.3L734.7,456.3Z" fill="#0072e9"/><path d="M748.1,459.3L750.3,455.7L748.6,454.5L746.4,458.2Z" fill="#008be2"/><path d="M654.7,446.5L657.0,445.9L655.3,445.2L653.1,445.8Z" fill="#25cca6"/><path d="M666.4,447.0L668.6,446.4L667.0,445.6L664.7,446.3Z" fill="#26cca6"/><path d="M674.2,447.4L676.4,446.8L674.7,445.8L672.5,446.6Z" fill="#26d0a9"/><path d="M678.1,447.9L680.3,447.3L678.6,446.0L676.4,446.8Z" fill="#24d4b0"/><path d="M689.7,452.7L692.0,452.2L690.3,449.1L688.1,450.0Z" fill="#00c8e1"/><path d="M693.6,455.1L695.9,454.0L694.2,450.9L692.0,452.2Z" fill="#00a8e2"/><path d="M701.4,455.5L703.6,452.0L702.0,451.0L699.7,454.1Z" fill="#00abe1"/><path d="M705.3,452.0L707.5,447.9L705.9,448.2L703.6,452.0Z" fill="#05ddd8"/><path d="M709.2,446.8L711.4,443.5L709.7,444.6L707.5,447.9Z" fill="#4fd080"/><path d="M713.1,442.0L715.3,440.6L713.6,441.9L711.4,443.5Z" fill="#8dcc3e"/><path d="M717.0,439.3L719.2,440.2L717.5,441.1L715.3,440.6Z" fill="#b1d321"/><path d="M720.9,439.9L723.1,442.3L721.4,442.3L719.2,440.2Z" fill="#a7d52d"/><path d="M724.7,443.9L727.0,446.5L725.3,444.8L723.1,442.3Z" fill="#6ecc5d"/><path d="M728.6,450.2L730.9,451.6L729.2,448.0L727.0,446.5Z" fill="#27dcb4"/><path d="M732.5,456.9L734.7,456.3L733.1,451.4L730.9,451.6Z" fill="#00b6e7"/><path d="M740.3,463.6L742.5,459.7L740.9,455.9L738.6,459.3Z" fill="#0056e9"/><path d="M744.2,462.3L746.4,458.2L744.7,455.8L742.5,459.7Z" fill="#0064e7"/><path d="M755.9,453.7L758.1,451.9L756.4,451.4L754.2,453.5Z" fill="#00d2d5"/><path d="M759.7,452.3L762.0,451.1L760.3,450.5L758.1,451.9Z" fill="#13d0bd"/><path d="M767.5,451.5L769.7,450.8L768.1,450.1L765.9,450.8Z" fill="#23cca9"/><path d="M779.2,451.8L781.4,451.2L779.7,450.5L777.5,451.1Z" fill="#25cca6"/><path d="M658.6,446.7L660.9,446.1L659.2,445.3L657.0,445.9Z" fill="#25cca6"/><path d="M670.3,447.2L672.5,446.6L670.9,445.7L668.6,446.4Z" fill="#26cda7"/><path d="M682.0,448.8L684.2,448.3L682.5,446.5L680.3,447.3Z" fill="#1bd9bd"/><path d="M752.0,456.1L754.2,453.5L752.5,452.8L750.3,455.7Z" fill="#00b4dc"/><path d="M763.6,451.7L765.9,450.8L764.2,450.2L762.0,451.1Z" fill="#1ecdaf"/><path d="M775.3,451.6L777.5,451.1L775.9,450.3L773.6,450.9Z" fill="#25cca6"/><path d="M660.3,447.4L662.5,446.9L660.9,446.1L658.6,446.7Z" fill="#25cca6"/><path d="M664.2,447.6L666.4,447.0L664.7,446.3L662.5,446.9Z" fill="#25cca6"/><path d="M672.0,448.0L674.2,447.4L672.5,446.6L670.3,447.2Z" fill="#25cea8"/><path d="M683.6,450.5L685.9,450.4L684.2,448.3L682.0,448.8Z" fill="#09d8cf"/><path d="M691.4,455.3L693.6,455.1L692.0,452.2L689.7,452.7Z" fill="#00a1de"/><path d="M695.3,457.5L697.5,456.4L695.9,454.0L693.6,455.1Z" fill="#0082df"/><path d="M703.1,455.8L705.3,452.0L703.6,452.0L701.4,455.5Z" fill="#00aade"/><path d="M707.0,451.1L709.2,446.8L707.5,447.9L705.3,452.0Z" fill="#1cd9bd"/><path d="M714.7,440.4L717.0,439.3L715.3,440.6L713.1,442.0Z" fill="#b1cc1a"/><path d="M718.6,438.6L720.9,439.9L719.2,440.2L717.0,439.3Z" fill="#c8cf06"/><path d="M726.4,447.5L728.6,450.2L727.0,446.5L724.7,443.9Z" fill="#53d481"/><path d="M730.3,455.8L732.5,456.9L730.9,451.6L728.6,450.2Z" fill="#00c7e4"/><path d="M738.1,466.7L740.3,463.6L738.6,459.3L736.4,461.8Z" fill="#0024e9"/><path d="M742.0,466.4L744.2,462.3L742.5,459.7L740.3,463.6Z" fill="#0024e7"/><path d="M749.7,459.4L752.0,456.1L750.3,455.7L748.1,459.3Z" fill="#0088dd"/><path d="M761.4,452.6L763.6,451.7L762.0,451.1L759.7,452.3Z" fill="#17cdb5"/><path d="M769.2,452.2L771.4,451.5L769.7,450.8L767.5,451.5Z" fill="#24cca7"/><path d="M773.1,452.2L775.3,451.6L773.6,450.9L771.4,451.5Z" fill="#25cca6"/><path d="M687.5,452.7L689.7,452.7L688.1,450.0L685.9,450.4Z" fill="#00c6dc"/><path d="M699.2,458.0L701.4,455.5L699.7,454.1L697.5,456.4Z" fill="#0081e0"/><path d="M734.2,463.0L736.4,461.8L734.7,456.3L732.5,456.9Z" fill="#005fe9"/><path d="M745.9,463.4L748.1,459.3L746.4,458.2L744.2,462.3Z" fill="#004fe3"/><path d="M656.4,447.3L658.6,446.7L657.0,445.9L654.7,446.5Z" fill="#25cca6"/><path d="M668.1,447.8L670.3,447.2L668.6,446.4L666.4,447.0Z" fill="#25cca6"/><path d="M675.9,448.4L678.1,447.9L676.4,446.8L674.2,447.4Z" fill="#23d1ad"/><path d="M679.7,449.2L682.0,448.8L680.3,447.3L678.1,447.9Z" fill="#1bd4b9"/><path d="M710.9,445.2L713.1,442.0L711.4,443.5L709.2,446.8Z" fill="#6fcc5c"/><path d="M722.5,441.1L724.7,443.9L723.1,442.3L720.9,439.9Z" fill="#a2cc29"/><path d="M753.6,456.0L755.9,453.7L754.2,453.5L752.0,456.1Z" fill="#00b7d6"/><path d="M757.5,453.8L759.7,452.3L758.1,451.9L755.9,453.7Z" fill="#04d0cc"/><path d="M765.3,452.2L767.5,451.5L765.9,450.8L763.6,451.7Z" fill="#20ccab"/><path d="M777.0,452.4L779.2,451.8L777.5,451.1L775.3,451.6Z" fill="#25cca6"/><path d="M658.1,448.0L660.3,447.4L658.6,446.7L656.4,447.3Z" fill="#25cca6"/><path d="M669.7,448.6L672.0,448.0L670.3,447.2L668.1,447.8Z" fill="#25cda7"/><path d="M681.4,450.6L683.6,450.5L682.0,448.8L679.7,449.2Z" fill="#0ed4c5"/><path d="M693.1,457.5L695.3,457.5L693.6,455.1L691.4,455.3Z" fill="#007fda"/><path d="M704.7,455.3L707.0,451.1L705.3,452.0L703.1,455.8Z" fill="#00b9da"/><path d="M716.4,439.1L718.6,438.6L717.0,439.3L714.7,440.4Z" fill="#ccc600"/><path d="M728.1,453.3L730.3,455.8L728.6,450.2L726.4,447.5Z" fill="#10e2d1"/><path d="M739.7,469.9L742.0,466.4L740.3,463.6L738.1,466.7Z" fill="#0000d2"/><path d="M751.4,458.7L753.6,456.0L752.0,456.1L749.7,459.4Z" fill="#0092d5"/><path d="M763.1,453.1L765.3,452.2L763.6,451.7L761.4,452.6Z" fill="#1cccaf"/><path d="M774.7,453.0L777.0,452.4L775.3,451.6L773.1,452.2Z" fill="#25cca6"/><path d="M689.2,454.8L691.4,455.3L689.7,452.7L687.5,452.7Z" fill="#00a6d9"/><path d="M700.9,458.7L703.1,455.8L701.4,455.5L699.2,458.0Z" fill="#007adc"/><path d="M732.0,462.4L734.2,463.0L732.5,456.9L730.3,455.8Z" fill="#006ae7"/><path d="M743.6,467.4L745.9,463.4L744.2,462.3L742.0,466.4Z" fill="#000fe3"/><path d="M662.0,448.2L664.2,447.6L662.5,446.9L660.3,447.4Z" fill="#25cca6"/><path d="M665.9,448.4L668.1,447.8L666.4,447.0L664.2,447.6Z" fill="#25cca6"/><path d="M673.6,448.9L675.9,448.4L674.2,447.4L672.0,448.0Z" fill="#23ceab"/><path d="M685.3,452.4L687.5,452.7L685.9,450.4L683.6,450.5Z" fill="#00cbd7"/><path d="M697.0,459.2L699.2,458.0L697.5,456.4L695.3,457.5Z" fill="#0069db"/><path d="M708.6,449.5L710.9,445.2L709.2,446.8L707.0,451.1Z" fill="#3dd395"/><path d="M712.5,443.3L714.7,440.4L713.1,442.0L710.9,445.2Z" fill="#97cc34"/><path d="M720.3,439.3L722.5,441.1L720.9,439.9L718.6,438.6Z" fill="#ccc900"/><path d="M724.2,444.5L726.4,447.5L724.7,443.9L722.5,441.1Z" fill="#89cf46"/><path d="M735.9,468.5L738.1,466.7L736.4,461.8L734.2,463.0Z" fill="#0007e8"/><path d="M747.5,463.0L749.7,459.4L748.1,459.3L745.9,463.4Z" fill="#0052dd"/><path d="M759.2,453.9L761.4,452.6L759.7,452.3L757.5,453.8Z" fill="#0dccbf"/><path d="M767.0,452.8L769.2,452.2L767.5,451.5L765.3,452.2Z" fill="#22cca9"/><path d="M770.9,452.9L773.1,452.2L771.4,451.5L769.2,452.2Z" fill="#24cca7"/><path d="M677.5,449.5L679.7,449.2L678.1,447.9L675.9,448.4Z" fill="#1dd1b3"/><path d="M755.3,455.6L757.5,453.8L755.9,453.7L753.6,456.0Z" fill="#00bfcf"/><path d="M667.5,449.2L669.7,448.6L668.1,447.8L665.9,448.4Z" fill="#25cca7"/><path d="M764.7,453.6L767.0,452.8L765.3,452.2L763.1,453.1Z" fill="#1fccac"/><path d="M690.9,456.8L693.1,457.5L691.4,455.3L689.2,454.8Z" fill="#0089d3"/><path d="M702.5,458.5L704.7,455.3L703.1,455.8L700.9,458.7Z" fill="#0082d6"/><path d="M729.7,460.2L732.0,462.4L730.3,455.8L728.1,453.3Z" fill="#0091e6"/><path d="M741.4,470.9L743.6,467.4L742.0,466.4L739.7,469.9Z" fill="#0000b6"/><path d="M659.7,448.8L662.0,448.2L660.3,447.4L658.1,448.0Z" fill="#25cca6"/><path d="M671.4,449.4L673.6,448.9L672.0,448.0L669.7,448.6Z" fill="#23cda9"/><path d="M679.2,450.6L681.4,450.6L679.7,449.2L677.5,449.5Z" fill="#15d0ba"/><path d="M683.1,452.0L685.3,452.4L683.6,450.5L681.4,450.6Z" fill="#00d1d1"/><path d="M687.0,454.1L689.2,454.8L687.5,452.7L685.3,452.4Z" fill="#00b2d3"/><path d="M694.7,459.2L697.0,459.2L695.3,457.5L693.1,457.5Z" fill="#0066d4"/><path d="M698.6,460.2L700.9,458.7L699.2,458.0L697.0,459.2Z" fill="#005ed5"/><path d="M706.4,453.9L708.6,449.5L707.0,451.1L704.7,455.3Z" fill="#00d3d4"/><path d="M710.3,447.5L712.5,443.3L710.9,445.2L708.6,449.5Z" fill="#65cc66"/><path d="M714.2,441.6L716.4,439.1L714.7,440.4L712.5,443.3Z" fill="#becc0d"/><path d="M718.1,439.2L720.3,439.3L718.6,438.6L716.4,439.1Z" fill="#ccb500"/><path d="M722.0,442.2L724.2,444.5L722.5,441.1L720.3,439.3Z" fill="#bfd314"/><path d="M725.9,450.2L728.1,453.3L726.4,447.5L724.2,444.5Z" fill="#4ee092"/><path d="M733.6,468.5L735.9,468.5L734.2,463.0L732.0,462.4Z" fill="#0007e7"/><path d="M737.5,472.1L739.7,469.9L738.1,466.7L735.9,468.5Z" fill="#0000ab"/><path d="M745.3,466.7L747.5,463.0L745.9,463.4L743.6,467.4Z" fill="#0017da"/><path d="M749.2,461.8L751.4,458.7L749.7,459.4L747.5,463.0Z" fill="#0064d2"/><path d="M753.1,457.8L755.3,455.6L753.6,456.0L751.4,458.7Z" fill="#00a0cc"/><path d="M760.9,454.0L763.1,453.1L761.4,452.6L759.2,453.9Z" fill="#15ccb6"/><path d="M772.5,453.6L774.7,453.0L773.1,452.2L770.9,452.9Z" fill="#25cca6"/><path d="M663.6,449.0L665.9,448.4L664.2,447.6L662.0,448.2Z" fill="#25cca6"/><path d="M675.3,449.8L677.5,449.5L675.9,448.4L673.6,448.9Z" fill="#1fceae"/><path d="M757.0,455.3L759.2,453.9L757.5,453.8L755.3,455.6Z" fill="#00cacc"/><path d="M768.6,453.5L770.9,452.9L769.2,452.2L767.0,452.8Z" fill="#23cca8"/><path d="M665.3,449.7L667.5,449.2L665.9,448.4L663.6,449.0Z" fill="#25cca6"/><path d="M669.2,449.9L671.4,449.4L669.7,448.6L667.5,449.2Z" fill="#24cca7"/><path d="M677.0,450.8L679.2,450.6L677.5,449.5L675.3,449.8Z" fill="#1acdb2"/><path d="M684.7,453.5L687.0,454.1L685.3,452.4L683.1,452.0Z" fill="#00bfcd"/><path d="M688.6,455.8L690.9,456.8L689.2,454.8L687.0,454.1Z" fill="#0099cc"/><path d="M696.4,460.3L698.6,460.2L697.0,459.2L694.7,459.2Z" fill="#0058cc"/><path d="M700.3,460.3L702.5,458.5L700.9,458.7L698.6,460.2Z" fill="#005fcc"/><path d="M708.1,451.9L710.3,447.5L708.6,449.5L706.4,453.9Z" fill="#28cda4"/><path d="M712.0,445.5L714.2,441.6L712.5,443.3L710.3,447.5Z" fill="#91cc3a"/><path d="M719.7,441.4L722.0,442.2L720.3,439.3L718.1,439.2Z" fill="#d9cd00"/><path d="M723.6,447.4L725.9,450.2L724.2,444.5L722.0,442.2Z" fill="#8be155"/><path d="M731.4,466.8L733.6,468.5L732.0,462.4L729.7,460.2Z" fill="#0026e5"/><path d="M735.3,472.7L737.5,472.1L735.9,468.5L733.6,468.5Z" fill="#00009f"/><path d="M743.1,470.0L745.3,466.7L743.6,467.4L741.4,470.9Z" fill="#0000b7"/><path d="M747.0,464.9L749.2,461.8L747.5,463.0L745.3,466.7Z" fill="#0033cc"/><path d="M754.7,457.0L757.0,455.3L755.3,455.6L753.1,457.8Z" fill="#00b6cc"/><path d="M762.5,454.4L764.7,453.6L763.1,453.1L760.9,454.0Z" fill="#1bccb0"/><path d="M766.4,454.2L768.6,453.5L767.0,452.8L764.7,453.6Z" fill="#22cca9"/><path d="M692.5,458.4L694.7,459.2L693.1,457.5L690.9,456.8Z" fill="#0072cc"/><path d="M704.2,457.4L706.4,453.9L704.7,455.3L702.5,458.5Z" fill="#0097cd"/><path d="M727.5,457.1L729.7,460.2L728.1,453.3L725.9,450.2Z" fill="#00cde5"/><path d="M739.2,473.3L741.4,470.9L739.7,469.9L737.5,472.1Z" fill="#00008a"/><path d="M661.4,449.5L663.6,449.0L662.0,448.2L659.7,448.8Z" fill="#25cca6"/><path d="M673.1,450.3L675.3,449.8L673.6,448.9L671.4,449.4Z" fill="#21ccab"/><path d="M680.9,451.8L683.1,452.0L681.4,450.6L679.2,450.6Z" fill="#0ccdc1"/><path d="M715.9,441.0L718.1,439.2L716.4,439.1L714.2,441.6Z" fill="#cfc200"/><path d="M750.9,460.2L753.1,457.8L751.4,458.7L749.2,461.8Z" fill="#007fcc"/><path d="M758.6,455.2L760.9,454.0L759.2,453.9L757.0,455.3Z" fill="#0bccc0"/><path d="M770.3,454.2L772.5,453.6L770.9,452.9L768.6,453.5Z" fill="#24cca7"/><path d="M663.1,450.3L665.3,449.7L663.6,449.0L661.4,449.5Z" fill="#25cca6"/><path d="M674.7,451.1L677.0,450.8L675.3,449.8L673.1,450.3Z" fill="#1fccad"/><path d="M686.4,454.9L688.6,455.8L687.0,454.1L684.7,453.5Z" fill="#00b0cc"/><path d="M698.1,460.7L700.3,460.3L698.6,460.2L696.4,460.3Z" fill="#005acc"/><path d="M709.7,449.7L712.0,445.5L710.3,447.5L708.1,451.9Z" fill="#56cc75"/><path d="M721.4,445.6L723.6,447.4L722.0,442.2L719.7,441.4Z" fill="#bae228"/><path d="M733.1,471.4L735.3,472.7L733.6,468.5L731.4,466.8Z" fill="#0000b3"/><path d="M744.7,467.7L747.0,464.9L745.3,466.7L743.1,470.0Z" fill="#0008cc"/><path d="M756.4,456.4L758.6,455.2L757.0,455.3L754.7,457.0Z" fill="#00cacc"/><path d="M768.1,454.8L770.3,454.2L768.6,453.5L766.4,454.2Z" fill="#23cca8"/><path d="M694.2,459.5L696.4,460.3L694.7,459.2L692.5,458.4Z" fill="#0067cc"/><path d="M705.9,455.6L708.1,451.9L706.4,453.9L704.2,457.4Z" fill="#00bccc"/><path d="M725.3,453.9L727.5,457.1L725.9,450.2L723.6,447.4Z" fill="#2ce4b8"/><path d="M737.0,474.2L739.2,473.3L737.5,472.1L735.3,472.7Z" fill="#000076"/><path d="M667.0,450.5L669.2,449.9L667.5,449.2L665.3,449.7Z" fill="#25cca7"/><path d="M670.9,450.8L673.1,450.3L671.4,449.4L669.2,449.9Z" fill="#23cca8"/><path d="M678.6,451.8L680.9,451.8L679.2,450.6L677.0,450.8Z" fill="#15ccb6"/><path d="M682.5,453.0L684.7,453.5L683.1,452.0L680.9,451.8Z" fill="#02ccc9"/><path d="M690.3,457.2L692.5,458.4L690.9,456.8L688.6,455.8Z" fill="#008acc"/><path d="M702.0,459.5L704.2,457.4L702.5,458.5L700.3,460.3Z" fill="#0074cc"/><path d="M713.6,444.3L715.9,441.0L714.2,441.6L712.0,445.5Z" fill="#bbd419"/><path d="M717.5,442.2L719.7,441.4L718.1,439.2L715.9,441.0Z" fill="#dcce00"/><path d="M729.2,463.8L731.4,466.8L729.7,460.2L727.5,457.1Z" fill="#005ee4"/><path d="M740.9,472.3L743.1,470.0L741.4,470.9L739.2,473.3Z" fill="#00008a"/><path d="M748.6,462.7L750.9,460.2L749.2,461.8L747.0,464.9Z" fill="#005bcc"/><path d="M752.5,458.8L754.7,457.0L753.1,457.8L750.9,460.2Z" fill="#009fcc"/><path d="M760.3,455.3L762.5,454.4L760.9,454.0L758.6,455.2Z" fill="#15ccb6"/><path d="M764.2,454.9L766.4,454.2L764.7,453.6L762.5,454.4Z" fill="#1fccac"/><path d="M672.5,451.6L674.7,451.1L673.1,450.3L670.9,450.8Z" fill="#22cca9"/><path d="M758.1,456.3L760.3,455.3L758.6,455.2L756.4,456.4Z" fill="#0dccbe"/><path d="M695.9,460.0L698.1,460.7L696.4,460.3L694.2,459.5Z" fill="#0067cc"/><path d="M707.5,453.5L709.7,449.7L708.1,451.9L705.9,455.6Z" fill="#1dccae"/><path d="M723.1,451.3L725.3,453.9L723.6,447.4L721.4,445.6Z" fill="#66e47e"/><path d="M734.7,473.5L737.0,474.2L735.3,472.7L733.1,471.4Z" fill="#00007c"/><path d="M664.7,451.1L667.0,450.5L665.3,449.7L663.1,450.3Z" fill="#25cca6"/><path d="M676.4,452.0L678.6,451.8L677.0,450.8L674.7,451.1Z" fill="#1bccb0"/><path d="M680.3,452.9L682.5,453.0L680.9,451.8L678.6,451.8Z" fill="#0fccbc"/><path d="M684.2,454.2L686.4,454.9L684.7,453.5L682.5,453.0Z" fill="#00c5cc"/><path d="M688.1,456.1L690.3,457.2L688.6,455.8L686.4,454.9Z" fill="#00a5cc"/><path d="M692.0,458.3L694.2,459.5L692.5,458.4L690.3,457.2Z" fill="#0081cc"/><path d="M699.7,460.3L702.0,459.5L700.3,460.3L698.1,460.7Z" fill="#0069cc"/><path d="M703.6,458.1L705.9,455.6L704.2,457.4L702.0,459.5Z" fill="#0095cc"/><path d="M711.4,448.1L713.6,444.3L712.0,445.5L709.7,449.7Z" fill="#83d34f"/><path d="M715.3,444.5L717.5,442.2L715.9,441.0L713.6,444.3Z" fill="#d2dd0b"/><path d="M719.2,445.4L721.4,445.6L719.7,441.4L717.5,442.2Z" fill="#cee214"/><path d="M727.0,460.4L729.2,463.8L727.5,457.1L725.3,453.9Z" fill="#00a3e3"/><path d="M730.9,468.8L733.1,471.4L731.4,466.8L729.2,463.8Z" fill="#0003dd"/><path d="M738.6,473.3L740.9,472.3L739.2,473.3L737.0,474.2Z" fill="#000079"/><path d="M742.5,469.7L744.7,467.7L743.1,470.0L740.9,472.3Z" fill="#0000b3"/><path d="M746.4,464.9L748.6,462.7L747.0,464.9L744.7,467.7Z" fill="#003acc"/><path d="M750.3,460.7L752.5,458.8L750.9,460.2L748.6,462.7Z" fill="#0085cc"/><path d="M754.2,457.8L756.4,456.4L754.7,457.0L752.5,458.8Z" fill="#00bacc"/><path d="M765.9,455.5L768.1,454.8L766.4,454.2L764.2,454.9Z" fill="#22cca9"/><path d="M668.6,451.3L670.9,450.8L669.2,449.9L667.0,450.5Z" fill="#24cca7"/><path d="M762.0,455.6L764.2,454.9L762.5,454.4L760.3,455.3Z" fill="#1cccaf"/><path d="M670.3,452.1L672.5,451.6L670.9,450.8L668.6,451.3Z" fill="#23cca8"/><path d="M674.2,452.4L676.4,452.0L674.7,451.1L672.5,451.6Z" fill="#20ccab"/><path d="M678.1,452.9L680.3,452.9L678.6,451.8L676.4,452.0Z" fill="#18ccb3"/><path d="M682.0,453.9L684.2,454.2L682.5,453.0L680.3,452.9Z" fill="#09ccc2"/><path d="M689.7,457.1L692.0,458.3L690.3,457.2L688.1,456.1Z" fill="#009ecc"/><path d="M693.6,458.9L695.9,460.0L694.2,459.5L692.0,458.3Z" fill="#0080cc"/><path d="M701.4,459.3L703.6,458.1L702.0,459.5L699.7,460.3Z" fill="#0084cc"/><path d="M705.3,456.3L707.5,453.5L705.9,455.6L703.6,458.1Z" fill="#00becc"/><path d="M713.1,447.6L715.3,444.5L713.6,444.3L711.4,448.1Z" fill="#a3db37"/><path d="M717.0,446.5L719.2,445.4L717.5,442.2L715.3,444.5Z" fill="#c6e21b"/><path d="M724.7,457.2L727.0,460.4L725.3,453.9L723.1,451.3Z" fill="#03e3df"/><path d="M728.6,465.4L730.9,468.8L729.2,463.8L727.0,460.4Z" fill="#0044db"/><path d="M736.4,473.0L738.6,473.3L737.0,474.2L734.7,473.5Z" fill="#00007f"/><path d="M740.3,470.8L742.5,469.7L740.9,472.3L738.6,473.3Z" fill="#0000a9"/><path d="M748.1,462.4L750.3,460.7L748.6,462.7L746.4,464.9Z" fill="#006dcc"/><path d="M752.0,459.2L754.2,457.8L752.5,458.8L750.3,460.7Z" fill="#00a9cc"/><path d="M755.9,457.3L758.1,456.3L756.4,456.4L754.2,457.8Z" fill="#04ccc7"/><path d="M759.7,456.5L762.0,455.6L760.3,455.3L758.1,456.3Z" fill="#17ccb4"/><path d="M697.5,460.0L699.7,460.3L698.1,460.7L695.9,460.0Z" fill="#0072cc"/><path d="M709.2,451.8L711.4,448.1L709.7,449.7L707.5,453.5Z" fill="#49cc82"/><path d="M720.9,449.9L723.1,451.3L721.4,445.6L719.2,445.4Z" fill="#8ce457"/><path d="M732.5,471.3L734.7,473.5L733.1,471.4L730.9,468.8Z" fill="#0000a1"/><path d="M666.4,451.8L668.6,451.3L667.0,450.5L664.7,451.1Z" fill="#25cca6"/><path d="M685.9,455.3L688.1,456.1L686.4,454.9L684.2,454.2Z" fill="#00bdcc"/><path d="M744.2,466.6L746.4,464.9L744.7,467.7L742.5,469.7Z" fill="#0020d1"/><path d="M763.6,456.2L765.9,455.5L764.2,454.9L762.0,455.6Z" fill="#20ccab"/><path d="M668.1,452.6L670.3,452.1L668.6,451.3L666.4,451.8Z" fill="#24cca7"/><path d="M675.9,453.2L678.1,452.9L676.4,452.0L674.2,452.4Z" fill="#1eccad"/><path d="M679.7,453.8L682.0,453.9L680.3,452.9L678.1,452.9Z" fill="#15ccb6"/><path d="M691.4,457.8L693.6,458.9L692.0,458.3L689.7,457.1Z" fill="#009dcc"/><path d="M699.2,459.4L701.4,459.3L699.7,460.3L697.5,460.0Z" fill="#0086cc"/><path d="M703.1,457.9L705.3,456.3L703.6,458.1L701.4,459.3Z" fill="#00a7cc"/><path d="M710.9,450.8L713.1,447.6L711.4,448.1L709.2,451.8Z" fill="#6ed667"/><path d="M714.7,448.6L717.0,446.5L715.3,444.5L713.1,447.6Z" fill="#a8e037"/><path d="M718.6,449.8L720.9,449.9L719.2,445.4L717.0,446.5Z" fill="#9ae44a"/><path d="M726.4,462.0L728.6,465.4L727.0,460.4L724.7,457.2Z" fill="#008adb"/><path d="M730.3,468.3L732.5,471.3L730.9,468.8L728.6,465.4Z" fill="#000ccc"/><path d="M738.1,470.7L740.3,470.8L738.6,473.3L736.4,473.0Z" fill="#0000b1"/><path d="M749.7,460.5L752.0,459.2L750.3,460.7L748.1,462.4Z" fill="#0099cc"/><path d="M753.6,458.4L755.9,457.3L754.2,457.8L752.0,459.2Z" fill="#00c5cc"/><path d="M761.4,456.9L763.6,456.2L762.0,455.6L759.7,456.5Z" fill="#1eccad"/><path d="M672.0,452.9L674.2,452.4L672.5,451.6L670.3,452.1Z" fill="#22cca9"/><path d="M683.6,454.8L685.9,455.3L684.2,454.2L682.0,453.9Z" fill="#04ccc7"/><path d="M687.5,456.2L689.7,457.1L688.1,456.1L685.9,455.3Z" fill="#00b9cc"/><path d="M695.3,459.1L697.5,460.0L695.9,460.0L693.6,458.9Z" fill="#0087cc"/><path d="M707.0,454.7L709.2,451.8L707.5,453.5L705.3,456.3Z" fill="#1dccae"/><path d="M722.5,454.9L724.7,457.2L723.1,451.3L720.9,449.9Z" fill="#39e3a9"/><path d="M734.2,471.4L736.4,473.0L734.7,473.5L732.5,471.3Z" fill="#0000a2"/><path d="M742.0,467.6L744.2,466.6L742.5,469.7L740.3,470.8Z" fill="#0012da"/><path d="M745.9,463.8L748.1,462.4L746.4,464.9L744.2,466.6Z" fill="#005cd1"/><path d="M757.5,457.3L759.7,456.5L758.1,456.3L755.9,457.3Z" fill="#12ccb9"/><path d="M677.5,454.1L679.7,453.8L678.1,452.9L675.9,453.2Z" fill="#1cccaf"/><path d="M751.4,459.4L753.6,458.4L752.0,459.2L749.7,460.5Z" fill="#00bbcc"/><path d="M669.7,453.4L672.0,452.9L670.3,452.1L668.1,452.6Z" fill="#24cca7"/><path d="M673.6,453.6L675.9,453.2L674.2,452.4L672.0,452.9Z" fill="#22cca9"/><path d="M681.4,454.7L683.6,454.8L682.0,453.9L679.7,453.8Z" fill="#12ccb9"/><path d="M685.3,455.7L687.5,456.2L685.9,455.3L683.6,454.8Z" fill="#01ccca"/><path d="M689.2,456.9L691.4,457.8L689.7,457.1L687.5,456.2Z" fill="#00b7cc"/><path d="M693.1,458.2L695.3,459.1L693.6,458.9L691.4,457.8Z" fill="#00a1cc"/><path d="M697.0,459.0L699.2,459.4L697.5,460.0L695.3,459.1Z" fill="#0095cc"/><path d="M700.9,458.6L703.1,457.9L701.4,459.3L699.2,459.4Z" fill="#00a2cc"/><path d="M704.7,456.6L707.0,454.7L705.3,456.3L703.1,457.9Z" fill="#00cccb"/><path d="M708.6,453.6L710.9,450.8L709.2,451.8L707.0,454.7Z" fill="#3fcc8c"/><path d="M712.5,451.1L714.7,448.6L713.1,447.6L710.9,450.8Z" fill="#80dd5c"/><path d="M716.4,450.8L718.6,449.8L717.0,446.5L714.7,448.6Z" fill="#91e251"/><path d="M720.3,453.7L722.5,454.9L720.9,449.9L718.6,449.8Z" fill="#5ae287"/><path d="M724.2,459.2L726.4,462.0L724.7,457.2L722.5,454.9Z" fill="#00c9dc"/><path d="M728.1,465.0L730.3,468.3L728.6,465.4L726.4,462.0Z" fill="#004ccc"/><path d="M732.0,468.9L734.2,471.4L732.5,471.3L730.3,468.3Z" fill="#0000d4"/><path d="M735.9,469.7L738.1,470.7L736.4,473.0L734.2,471.4Z" fill="#0000cc"/><path d="M739.7,467.8L742.0,467.6L740.3,470.8L738.1,470.7Z" fill="#0013de"/><path d="M743.6,464.6L745.9,463.8L744.2,466.6L742.0,467.6Z" fill="#0054d9"/><path d="M747.5,461.6L749.7,460.5L748.1,462.4L745.9,463.8Z" fill="#008dcc"/><path d="M755.3,458.1L757.5,457.3L755.9,457.3L753.6,458.4Z" fill="#0cccbf"/><path d="M759.2,457.6L761.4,456.9L759.7,456.5L757.5,457.3Z" fill="#1bccb0"/><path d="M671.4,454.1L673.6,453.6L672.0,452.9L669.7,453.4Z" fill="#23cca8"/><path d="M675.3,454.4L677.5,454.1L675.9,453.2L673.6,453.6Z" fill="#21ccaa"/><path d="M679.2,454.9L681.4,454.7L679.7,453.8L677.5,454.1Z" fill="#1bccb0"/><path d="M683.1,455.5L685.3,455.7L683.6,454.8L681.4,454.7Z" fill="#10ccbb"/><path d="M687.0,456.4L689.2,456.9L687.5,456.2L685.3,455.7Z" fill="#00cccb"/><path d="M694.7,458.4L697.0,459.0L695.3,459.1L693.1,458.2Z" fill="#00abcc"/><path d="M698.6,458.6L700.9,458.6L699.2,459.4L697.0,459.0Z" fill="#00aacc"/><path d="M706.4,455.7L708.6,453.6L707.0,454.7L704.7,456.6Z" fill="#21ccaa"/><path d="M710.3,453.4L712.5,451.1L710.9,450.8L708.6,453.6Z" fill="#58d67e"/><path d="M714.2,452.3L716.4,450.8L714.7,448.6L712.5,451.1Z" fill="#7adf65"/><path d="M718.1,453.6L720.3,453.7L718.6,449.8L716.4,450.8Z" fill="#67e17a"/><path d="M722.0,457.2L724.2,459.2L722.5,454.9L720.3,453.7Z" fill="#1cddc1"/><path d="M729.7,466.1L732.0,468.9L730.3,468.3L728.1,465.0Z" fill="#003bd0"/><path d="M733.6,467.9L735.9,469.7L734.2,471.4L732.0,468.9Z" fill="#0017de"/><path d="M741.4,465.0L743.6,464.6L742.0,467.6L739.7,467.8Z" fill="#0056dd"/><path d="M745.3,462.4L747.5,461.6L745.9,463.8L743.6,464.6Z" fill="#008ad2"/><path d="M749.2,460.3L751.4,459.4L749.7,460.5L747.5,461.6Z" fill="#00b4cc"/><path d="M753.1,458.9L755.3,458.1L753.6,458.4L751.4,459.4Z" fill="#07ccc4"/><path d="M757.0,458.3L759.2,457.6L757.5,457.3L755.3,458.1Z" fill="#18ccb3"/><path d="M690.9,457.5L693.1,458.2L691.4,457.8L689.2,456.9Z" fill="#00bacc"/><path d="M702.5,457.7L704.7,456.6L703.1,457.9L700.9,458.6Z" fill="#00c0cc"/><path d="M725.9,462.1L728.1,465.0L726.4,462.0L724.2,459.2Z" fill="#0089cc"/><path d="M737.5,467.2L739.7,467.8L738.1,470.7L735.9,469.7Z" fill="#0025e0"/><path d="M673.1,454.9L675.3,454.4L673.6,453.6L671.4,454.1Z" fill="#23cca8"/><path d="M680.9,455.6L683.1,455.5L681.4,454.7L679.2,454.9Z" fill="#1accb1"/><path d="M684.7,456.3L687.0,456.4L685.3,455.7L683.1,455.5Z" fill="#0fccbc"/><path d="M696.4,458.4L698.6,458.6L697.0,459.0L694.7,458.4Z" fill="#00b9cc"/><path d="M704.2,457.0L706.4,455.7L704.7,456.6L702.5,457.7Z" fill="#10ccbb"/><path d="M708.1,455.3L710.3,453.4L708.6,453.6L706.4,455.7Z" fill="#38cc94"/><path d="M712.0,454.0L714.2,452.3L712.5,451.1L710.3,453.4Z" fill="#5fdb7c"/><path d="M715.9,454.2L718.1,453.6L716.4,450.8L714.2,452.3Z" fill="#63df7b"/><path d="M719.7,456.3L722.0,457.2L720.3,453.7L718.1,453.6Z" fill="#39dda4"/><path d="M723.6,459.9L725.9,462.1L724.2,459.2L722.0,457.2Z" fill="#00bbcc"/><path d="M731.4,465.7L733.6,467.9L732.0,468.9L729.7,466.1Z" fill="#004adc"/><path d="M743.1,462.8L745.3,462.4L743.6,464.6L741.4,465.0Z" fill="#008cd6"/><path d="M747.0,461.0L749.2,460.3L747.5,461.6L745.3,462.4Z" fill="#00afcc"/><path d="M754.7,459.0L757.0,458.3L755.3,458.1L753.1,458.9Z" fill="#15ccb6"/><path d="M677.0,455.2L679.2,454.9L677.5,454.1L675.3,454.4Z" fill="#20ccab"/><path d="M688.6,457.1L690.9,457.5L689.2,456.9L687.0,456.4Z" fill="#02ccc9"/><path d="M692.5,457.9L694.7,458.4L693.1,458.2L690.9,457.5Z" fill="#00c0cc"/><path d="M700.3,458.1L702.5,457.7L700.9,458.6L698.6,458.6Z" fill="#00c1cc"/><path d="M727.5,463.5L729.7,466.1L728.1,465.0L725.9,462.1Z" fill="#0073cc"/><path d="M735.3,466.0L737.5,467.2L735.9,469.7L733.6,467.9Z" fill="#0045e0"/><path d="M739.2,464.8L741.4,465.0L739.7,467.8L737.5,467.2Z" fill="#0062de"/><path d="M750.9,459.7L753.1,458.9L751.4,459.4L749.2,460.3Z" fill="#02ccc9"/><path d="M682.5,456.4L684.7,456.3L683.1,455.5L680.9,455.6Z" fill="#19ccb2"/><path d="M744.7,461.5L747.0,461.0L745.3,462.4L743.1,462.8Z" fill="#00afcc"/><path d="M674.7,455.7L677.0,455.2L675.3,454.4L673.1,454.9Z" fill="#23cca8"/><path d="M678.6,456.0L680.9,455.6L679.2,454.9L677.0,455.2Z" fill="#1fccac"/><path d="M686.4,457.0L688.6,457.1L687.0,456.4L684.7,456.3Z" fill="#10ccbb"/><path d="M690.3,457.6L692.5,457.9L690.9,457.5L688.6,457.1Z" fill="#05ccc6"/><path d="M694.2,458.1L696.4,458.4L694.7,458.4L692.5,457.9Z" fill="#00c9cc"/><path d="M698.1,458.3L700.3,458.1L698.6,458.6L696.4,458.4Z" fill="#00c9cc"/><path d="M702.0,457.8L704.2,457.0L702.5,457.7L700.3,458.1Z" fill="#0bccc0"/><path d="M705.9,456.8L708.1,455.3L706.4,455.7L704.2,457.0Z" fill="#26cca5"/><path d="M709.7,455.6L712.0,454.0L710.3,453.4L708.1,455.3Z" fill="#45d58f"/><path d="M713.6,455.2L715.9,454.2L714.2,452.3L712.0,454.0Z" fill="#56dc85"/><path d="M717.5,456.2L719.7,456.3L718.1,453.6L715.9,454.2Z" fill="#45dc96"/><path d="M721.4,458.6L723.6,459.9L722.0,457.2L719.7,456.3Z" fill="#13d2be"/><path d="M725.3,461.4L727.5,463.5L725.9,462.1L723.6,459.9Z" fill="#00a5cc"/><path d="M729.2,463.7L731.4,465.7L729.7,466.1L727.5,463.5Z" fill="#007bd5"/><path d="M733.1,464.6L735.3,466.0L733.6,467.9L731.4,465.7Z" fill="#006bdd"/><path d="M737.0,464.2L739.2,464.8L737.5,467.2L735.3,466.0Z" fill="#0077dd"/><path d="M740.9,462.9L743.1,462.8L741.4,465.0L739.2,464.8Z" fill="#0095d8"/><path d="M748.6,460.3L750.9,459.7L749.2,460.3L747.0,461.0Z" fill="#00cccb"/><path d="M752.5,459.6L754.7,459.0L753.1,458.9L750.9,459.7Z" fill="#13ccb8"/><path d="M676.4,456.4L678.6,456.0L677.0,455.2L674.7,455.7Z" fill="#22cca9"/><path d="M680.3,456.7L682.5,456.4L680.9,455.6L678.6,456.0Z" fill="#1fccac"/><path d="M684.2,457.1L686.4,457.0L684.7,456.3L682.5,456.4Z" fill="#1accb1"/><path d="M688.1,457.6L690.3,457.6L688.6,457.1L686.4,457.0Z" fill="#12ccb9"/><path d="M692.0,458.1L694.2,458.1L692.5,457.9L690.3,457.6Z" fill="#0bccc0"/><path d="M699.7,458.3L702.0,457.8L700.3,458.1L698.1,458.3Z" fill="#0dccbe"/><path d="M703.6,457.8L705.9,456.8L704.2,457.0L702.0,457.8Z" fill="#1cccaf"/><path d="M707.5,457.0L709.7,455.6L708.1,455.3L705.9,456.8Z" fill="#33ce9a"/><path d="M711.4,456.4L713.6,455.2L712.0,454.0L709.7,455.6Z" fill="#47d891"/><path d="M715.3,456.7L717.5,456.2L715.9,454.2L713.6,455.2Z" fill="#46da94"/><path d="M719.2,458.0L721.4,458.6L719.7,456.3L717.5,456.2Z" fill="#2ad5aa"/><path d="M723.1,460.1L725.3,461.4L723.6,459.9L721.4,458.6Z" fill="#00cbcc"/><path d="M727.0,462.0L729.2,463.7L727.5,463.5L725.3,461.4Z" fill="#00a1cc"/><path d="M734.7,463.4L737.0,464.2L735.3,466.0L733.1,464.6Z" fill="#0091da"/><path d="M738.6,462.7L740.9,462.9L739.2,464.8L737.0,464.2Z" fill="#00a2d6"/><path d="M742.5,461.8L744.7,461.5L743.1,462.8L740.9,462.9Z" fill="#00b3cc"/><path d="M746.4,460.9L748.6,460.3L747.0,461.0L744.7,461.5Z" fill="#00cccb"/><path d="M750.3,460.3L752.5,459.6L750.9,459.7L748.6,460.3Z" fill="#12ccb9"/><path d="M695.9,458.4L698.1,458.3L696.4,458.4L694.2,458.1Z" fill="#07ccc4"/><path d="M730.9,463.2L733.1,464.6L731.4,465.7L729.2,463.7Z" fill="#0091d8"/><path d="M678.1,457.2L680.3,456.7L678.6,456.0L676.4,456.4Z" fill="#22cca9"/><path d="M685.9,457.8L688.1,457.6L686.4,457.0L684.2,457.1Z" fill="#1bccb0"/><path d="M689.7,458.2L692.0,458.1L690.3,457.6L688.1,457.6Z" fill="#15ccb6"/><path d="M701.4,458.5L703.6,457.8L702.0,457.8L699.7,458.3Z" fill="#1accb1"/><path d="M705.3,458.0L707.5,457.0L705.9,456.8L703.6,457.8Z" fill="#28cca3"/><path d="M709.2,457.6L711.4,456.4L709.7,455.6L707.5,457.0Z" fill="#39d39a"/><path d="M713.1,457.5L715.3,456.7L713.6,455.2L711.4,456.4Z" fill="#40d797"/><path d="M717.0,458.1L719.2,458.0L717.5,456.2L715.3,456.7Z" fill="#34d5a1"/><path d="M720.9,459.4L723.1,460.1L721.4,458.6L719.2,458.0Z" fill="#18ccb3"/><path d="M724.7,460.9L727.0,462.0L725.3,461.4L723.1,460.1Z" fill="#00c4cc"/><path d="M736.4,462.5L738.6,462.7L737.0,464.2L734.7,463.4Z" fill="#00b0d2"/><path d="M740.3,461.9L742.5,461.8L740.9,462.9L738.6,462.7Z" fill="#00bbcc"/><path d="M748.1,460.8L750.3,460.3L748.6,460.3L746.4,460.9Z" fill="#12ccb9"/><path d="M682.0,457.5L684.2,457.1L682.5,456.4L680.3,456.7Z" fill="#1fccac"/><path d="M693.6,458.5L695.9,458.4L694.2,458.1L692.0,458.1Z" fill="#11ccba"/><path d="M697.5,458.7L699.7,458.3L698.1,458.3L695.9,458.4Z" fill="#12ccb9"/><path d="M728.6,462.1L730.9,463.2L729.2,463.7L727.0,462.0Z" fill="#00accc"/><path d="M732.5,462.6L734.7,463.4L733.1,464.6L730.9,463.2Z" fill="#00aad4"/><path d="M744.2,461.3L746.4,460.9L744.7,461.5L742.5,461.8Z" fill="#02ccc9"/><path d="M687.5,458.5L689.7,458.2L688.1,457.6L685.9,457.8Z" fill="#1cccaf"/><path d="M738.1,462.0L740.3,461.9L738.6,462.7L736.4,462.5Z" fill="#00c6cc"/><path d="M679.7,457.9L682.0,457.5L680.3,456.7L678.1,457.2Z" fill="#22cca9"/><path d="M683.6,458.2L685.9,457.8L684.2,457.1L682.0,457.5Z" fill="#20ccab"/><path d="M691.4,458.8L693.6,458.5L692.0,458.1L689.7,458.2Z" fill="#19ccb2"/><path d="M695.3,459.0L697.5,458.7L695.9,458.4L693.6,458.5Z" fill="#18ccb3"/><path d="M699.2,459.0L701.4,458.5L699.7,458.3L697.5,458.7Z" fill="#1bccb0"/><path d="M703.1,458.8L705.3,458.0L703.6,457.8L701.4,458.5Z" fill="#23cca8"/><path d="M707.0,458.6L709.2,457.6L707.5,457.0L705.3,458.0Z" fill="#2ece9f"/><path d="M710.9,458.4L713.1,457.5L711.4,456.4L709.2,457.6Z" fill="#38d49c"/><path d="M714.7,458.6L717.0,458.1L715.3,456.7L713.1,457.5Z" fill="#36d59e"/><path d="M718.6,459.4L720.9,459.4L719.2,458.0L717.0,458.1Z" fill="#27cea7"/><path d="M722.5,460.4L724.7,460.9L723.1,460.1L720.9,459.4Z" fill="#11ccba"/><path d="M726.4,461.4L728.6,462.1L727.0,462.0L724.7,460.9Z" fill="#00c8cc"/><path d="M730.3,462.1L732.5,462.6L730.9,463.2L728.6,462.1Z" fill="#00bccc"/><path d="M734.2,462.2L736.4,462.5L734.7,463.4L732.5,462.6Z" fill="#00bccc"/><path d="M742.0,461.6L744.2,461.3L742.5,461.8L740.3,461.9Z" fill="#07ccc4"/><path d="M745.9,461.3L748.1,460.8L746.4,460.9L744.2,461.3Z" fill="#13ccb8"/><path d="M681.4,458.7L683.6,458.2L682.0,457.5L679.7,457.9Z" fill="#23cca8"/><path d="M685.3,458.9L687.5,458.5L685.9,457.8L683.6,458.2Z" fill="#20ccab"/><path d="M689.2,459.2L691.4,458.8L689.7,458.2L687.5,458.5Z" fill="#1eccad"/><path d="M693.1,459.4L695.3,459.0L693.6,458.5L691.4,458.8Z" fill="#1dccae"/><path d="M697.0,459.5L699.2,459.0L697.5,458.7L695.3,459.0Z" fill="#1dccae"/><path d="M704.7,459.4L707.0,458.6L705.3,458.0L703.1,458.8Z" fill="#28cca3"/><path d="M708.6,459.3L710.9,458.4L709.2,457.6L707.0,458.6Z" fill="#30d1a0"/><path d="M712.5,459.3L714.7,458.6L713.1,457.5L710.9,458.4Z" fill="#33d39f"/><path d="M716.4,459.7L718.6,459.4L717.0,458.1L714.7,458.6Z" fill="#2dd0a3"/><path d="M720.3,460.4L722.5,460.4L720.9,459.4L718.6,459.4Z" fill="#20ccab"/><path d="M728.1,461.7L730.3,462.1L728.6,462.1L726.4,461.4Z" fill="#05ccc6"/><path d="M732.0,462.0L734.2,462.2L732.5,462.6L730.3,462.1Z" fill="#01ccca"/><path d="M735.9,462.1L738.1,462.0L736.4,462.5L734.2,462.2Z" fill="#05ccc6"/><path d="M739.7,462.0L742.0,461.6L740.3,461.9L738.1,462.0Z" fill="#0dccbe"/><path d="M743.6,461.8L745.9,461.3L744.2,461.3L742.0,461.6Z" fill="#15ccb6"/><path d="M700.9,459.5L703.1,458.8L701.4,458.5L699.2,459.0Z" fill="#21ccaa"/><path d="M724.2,461.1L726.4,461.4L724.7,460.9L722.5,460.4Z" fill="#11ccba"/><path d="M683.1,459.4L685.3,458.9L683.6,458.2L681.4,458.7Z" fill="#23cca8"/><path d="M690.9,459.8L693.1,459.4L691.4,458.8L689.2,459.2Z" fill="#20ccab"/><path d="M694.7,460.0L697.0,459.5L695.3,459.0L693.1,459.4Z" fill="#20ccab"/><path d="M698.6,460.1L700.9,459.5L699.2,459.0L697.0,459.5Z" fill="#22cca9"/><path d="M706.4,460.1L708.6,459.3L707.0,458.6L704.7,459.4Z" fill="#2bcea2"/><path d="M710.3,460.1L712.5,459.3L710.9,458.4L708.6,459.3Z" fill="#2fd1a1"/><path d="M714.2,460.3L716.4,459.7L714.7,458.6L712.5,459.3Z" fill="#2ed1a2"/><path d="M718.1,460.7L720.3,460.4L718.6,459.4L716.4,459.7Z" fill="#27cca4"/><path d="M725.9,461.7L728.1,461.7L726.4,461.4L724.2,461.1Z" fill="#15ccb6"/><path d="M729.7,462.1L732.0,462.0L730.3,462.1L728.1,461.7Z" fill="#0fccbc"/><path d="M733.6,462.2L735.9,462.1L734.2,462.2L732.0,462.0Z" fill="#0fccbc"/><path d="M741.4,462.2L743.6,461.8L742.0,461.6L739.7,462.0Z" fill="#19ccb2"/><path d="M687.0,459.6L689.2,459.2L687.5,458.5L685.3,458.9Z" fill="#21ccaa"/><path d="M702.5,460.1L704.7,459.4L703.1,458.8L700.9,459.5Z" fill="#26cca5"/><path d="M722.0,461.2L724.2,461.1L722.5,460.4L720.3,460.4Z" fill="#1eccad"/><path d="M737.5,462.3L739.7,462.0L738.1,462.0L735.9,462.1Z" fill="#13ccb8"/><path d="M692.5,460.5L694.7,460.0L693.1,459.4L690.9,459.8Z" fill="#22cca9"/><path d="M731.4,462.5L733.6,462.2L732.0,462.0L729.7,462.1Z" fill="#18ccb3"/><path d="M684.7,460.1L687.0,459.6L685.3,458.9L683.1,459.4Z" fill="#23cca8"/><path d="M688.6,460.3L690.9,459.8L689.2,459.2L687.0,459.6Z" fill="#23cca8"/><path d="M696.4,460.7L698.6,460.1L697.0,459.5L694.7,460.0Z" fill="#23cca8"/><path d="M700.3,460.7L702.5,460.1L700.9,459.5L698.6,460.1Z" fill="#25cca6"/><path d="M704.2,460.8L706.4,460.1L704.7,459.4L702.5,460.1Z" fill="#28cca4"/><path d="M708.1,460.8L710.3,460.1L708.6,459.3L706.4,460.1Z" fill="#2bcfa3"/><path d="M712.0,460.9L714.2,460.3L712.5,459.3L710.3,460.1Z" fill="#2dd0a3"/><path d="M715.9,461.2L718.1,460.7L716.4,459.7L714.2,460.3Z" fill="#2acea3"/><path d="M719.7,461.5L722.0,461.2L720.3,460.4L718.1,460.7Z" fill="#25cca6"/><path d="M723.6,461.9L725.9,461.7L724.2,461.1L722.0,461.2Z" fill="#1eccad"/><path d="M727.5,462.2L729.7,462.1L728.1,461.7L725.9,461.7Z" fill="#1accb1"/><path d="M735.3,462.6L737.5,462.3L735.9,462.1L733.6,462.2Z" fill="#19ccb2"/><path d="M739.2,462.7L741.4,462.2L739.7,462.0L737.5,462.3Z" fill="#1cccaf"/><path d="M694.2,461.2L696.4,460.7L694.7,460.0L692.5,460.5Z" fill="#23cca8"/><path d="M729.2,462.8L731.4,462.5L729.7,462.1L727.5,462.2Z" fill="#1eccad"/><path d="M686.4,460.9L688.6,460.3L687.0,459.6L684.7,460.1Z" fill="#24cca7"/><path d="M690.3,461.1L692.5,460.5L690.9,459.8L688.6,460.3Z" fill="#23cca8"/><path d="M698.1,461.4L700.3,460.7L698.6,460.1L696.4,460.7Z" fill="#24cca7"/><path d="M702.0,461.4L704.2,460.8L702.5,460.1L700.3,460.7Z" fill="#26cca5"/><path d="M709.7,461.6L712.0,460.9L710.3,460.1L708.1,460.8Z" fill="#2bcfa4"/><path d="M713.6,461.8L715.9,461.2L714.2,460.3L712.0,460.9Z" fill="#2acea4"/><path d="M721.4,462.3L723.6,461.9L722.0,461.2L719.7,461.5Z" fill="#24cca7"/><path d="M725.3,462.6L727.5,462.2L725.9,461.7L723.6,461.9Z" fill="#20ccab"/><path d="M733.1,463.0L735.3,462.6L733.6,462.2L731.4,462.5Z" fill="#1eccad"/><path d="M737.0,463.2L739.2,462.7L737.5,462.3L735.3,462.6Z" fill="#1fccac"/><path d="M705.9,461.5L708.1,460.8L706.4,460.1L704.2,460.8Z" fill="#29cda4"/><path d="M717.5,462.0L719.7,461.5L718.1,460.7L715.9,461.2Z" fill="#28cca4"/><path d="M688.1,461.6L690.3,461.1L688.6,460.3L686.4,460.9Z" fill="#24cca7"/><path d="M692.0,461.8L694.2,461.2L692.5,460.5L690.3,461.1Z" fill="#24cca7"/><path d="M695.9,461.9L698.1,461.4L696.4,460.7L694.2,461.2Z" fill="#25cca6"/><path d="M699.7,462.1L702.0,461.4L700.3,460.7L698.1,461.4Z" fill="#25cca6"/><path d="M703.6,462.2L705.9,461.5L704.2,460.8L702.0,461.4Z" fill="#27cca5"/><path d="M707.5,462.3L709.7,461.6L708.1,460.8L705.9,461.5Z" fill="#28cea5"/><path d="M711.4,462.4L713.6,461.8L712.0,460.9L709.7,461.6Z" fill="#29cea4"/><path d="M715.3,462.6L717.5,462.0L715.9,461.2L713.6,461.8Z" fill="#28cda4"/><path d="M719.2,462.8L721.4,462.3L719.7,461.5L717.5,462.0Z" fill="#26cca5"/><path d="M723.1,463.1L725.3,462.6L723.6,461.9L721.4,462.3Z" fill="#24cca7"/><path d="M727.0,463.3L729.2,462.8L727.5,462.2L725.3,462.6Z" fill="#22cca9"/><path d="M730.9,463.5L733.1,463.0L731.4,462.5L729.2,462.8Z" fill="#21ccaa"/><path d="M734.7,463.7L737.0,463.2L735.3,462.6L733.1,463.0Z" fill="#22cca9"/><path d="M697.5,462.7L699.7,462.1L698.1,461.4L695.9,461.9Z" fill="#25cca6"/><path d="M724.7,463.8L727.0,463.3L725.3,462.6L723.1,463.1Z" fill="#25cca6"/><path d="M689.7,462.4L692.0,461.8L690.3,461.1L688.1,461.6Z" fill="#25cca6"/><path d="M693.6,462.5L695.9,461.9L694.2,461.2L692.0,461.8Z" fill="#25cca6"/><path d="M701.4,462.8L703.6,462.2L702.0,461.4L699.7,462.1Z" fill="#26cca5"/><path d="M705.3,462.9L707.5,462.3L705.9,461.5L703.6,462.2Z" fill="#27cda5"/><path d="M709.2,463.1L711.4,462.4L709.7,461.6L707.5,462.3Z" fill="#28cda5"/><path d="M713.1,463.2L715.3,462.6L713.6,461.8L711.4,462.4Z" fill="#28cda5"/><path d="M717.0,463.4L719.2,462.8L717.5,462.0L715.3,462.6Z" fill="#27cca5"/><path d="M720.9,463.6L723.1,463.1L721.4,462.3L719.2,462.8Z" fill="#26cca5"/><path d="M728.6,464.0L730.9,463.5L729.2,462.8L727.0,463.3Z" fill="#24cca7"/><path d="M732.5,464.2L734.7,463.7L733.1,463.0L730.9,463.5Z" fill="#23cca8"/><path d="M699.2,463.4L701.4,462.8L699.7,462.1L697.5,462.7Z" fill="#25cca6"/><path d="M722.5,464.4L724.7,463.8L723.1,463.1L720.9,463.6Z" fill="#26cca5"/><path d="M691.4,463.1L693.6,462.5L692.0,461.8L689.7,462.4Z" fill="#25cca6"/><path d="M695.3,463.3L697.5,462.7L695.9,461.9L693.6,462.5Z" fill="#25cca6"/><path d="M703.1,463.6L705.3,462.9L703.6,462.2L701.4,462.8Z" fill="#26cca5"/><path d="M707.0,463.7L709.2,463.1L707.5,462.3L705.3,462.9Z" fill="#27cda5"/><path d="M710.9,463.9L713.1,463.2L711.4,462.4L709.2,463.1Z" fill="#27cda5"/><path d="M714.7,464.0L717.0,463.4L715.3,462.6L713.1,463.2Z" fill="#27cda5"/><path d="M718.6,464.2L720.9,463.6L719.2,462.8L717.0,463.4Z" fill="#26cca5"/><path d="M726.4,464.6L728.6,464.0L727.0,463.3L724.7,463.8Z" fill="#25cca6"/><path d="M730.3,464.7L732.5,464.2L730.9,463.5L728.6,464.0Z" fill="#25cca6"/><path d="M693.1,463.9L695.3,463.3L693.6,462.5L691.4,463.1Z" fill="#25cca6"/><path d="M697.0,464.0L699.2,463.4L697.5,462.7L695.3,463.3Z" fill="#25cca6"/><path d="M700.9,464.2L703.1,463.6L701.4,462.8L699.2,463.4Z" fill="#26cca6"/><path d="M704.7,464.3L707.0,463.7L705.3,462.9L703.1,463.6Z" fill="#26cca6"/><path d="M708.6,464.5L710.9,463.9L709.2,463.1L707.0,463.7Z" fill="#26cca5"/><path d="M712.5,464.6L714.7,464.0L713.1,463.2L710.9,463.9Z" fill="#27cda5"/><path d="M716.4,464.8L718.6,464.2L717.0,463.4L714.7,464.0Z" fill="#26cca5"/><path d="M720.3,465.0L722.5,464.4L720.9,463.6L718.6,464.2Z" fill="#26cca5"/><path d="M724.2,465.1L726.4,464.6L724.7,463.8L722.5,464.4Z" fill="#26cca5"/><path d="M728.1,465.3L730.3,464.7L728.6,464.0L726.4,464.6Z" fill="#25cca6"/><path d="M702.5,464.9L704.7,464.3L703.1,463.6L700.9,464.2Z" fill="#26cca6"/><path d="M718.1,465.6L720.3,465.0L718.6,464.2L716.4,464.8Z" fill="#26cca6"/><path d="M694.7,464.6L697.0,464.0L695.3,463.3L693.1,463.9Z" fill="#25cca6"/><path d="M698.6,464.8L700.9,464.2L699.2,463.4L697.0,464.0Z" fill="#25cca6"/><path d="M706.4,465.1L708.6,464.5L707.0,463.7L704.7,464.3Z" fill="#26cca6"/><path d="M710.3,465.2L712.5,464.6L710.9,463.9L708.6,464.5Z" fill="#26cca6"/><path d="M714.2,465.4L716.4,464.8L714.7,464.0L712.5,464.6Z" fill="#26cca6"/><path d="M722.0,465.7L724.2,465.1L722.5,464.4L720.3,465.0Z" fill="#26cca5"/><path d="M725.9,465.9L728.1,465.3L726.4,464.6L724.2,465.1Z" fill="#26cca5"/><path d="M696.4,465.4L698.6,464.8L697.0,464.0L694.7,464.6Z" fill="#25cca6"/><path d="M700.3,465.5L702.5,464.9L700.9,464.2L698.6,464.8Z" fill="#25cca6"/><path d="M704.2,465.7L706.4,465.1L704.7,464.3L702.5,464.9Z" fill="#26cca6"/><path d="M708.1,465.8L710.3,465.2L708.6,464.5L706.4,465.1Z" fill="#26cca6"/><path d="M712.0,466.0L714.2,465.4L712.5,464.6L710.3,465.2Z" fill="#26cca6"/><path d="M715.9,466.2L718.1,465.6L716.4,464.8L714.2,465.4Z" fill="#26cca6"/><path d="M719.7,466.3L722.0,465.7L720.3,465.0L718.1,465.6Z" fill="#26cca6"/><path d="M723.6,466.5L725.9,465.9L724.2,465.1L722.0,465.7Z" fill="#26cca6"/><path d="M698.1,466.1L700.3,465.5L698.6,464.8L696.4,465.4Z" fill="#25cca6"/><path d="M702.0,466.3L704.2,465.7L702.5,464.9L700.3,465.5Z" fill="#25cca6"/><path d="M705.9,466.4L708.1,465.8L706.4,465.1L704.2,465.7Z" fill="#25cca6"/><path d="M709.7,466.6L712.0,466.0L710.3,465.2L708.1,465.8Z" fill="#26cca6"/><path d="M713.6,466.8L715.9,466.2L714.2,465.4L712.0,466.0Z" fill="#26cca6"/><path d="M717.5,466.9L719.7,466.3L718.1,465.6L715.9,466.2Z" fill="#26cca6"/><path d="M721.4,467.1L723.6,466.5L722.0,465.7L719.7,466.3Z" fill="#26cca6"/><path d="M707.5,467.2L709.7,466.6L708.1,465.8L705.9,466.4Z" fill="#25cca6"/><path d="M711.4,467.4L713.6,466.8L712.0,466.0L709.7,466.6Z" fill="#25cca6"/><path d="M699.7,466.9L702.0,466.3L700.3,465.5L698.1,466.1Z" fill="#25cca6"/><path d="M703.6,467.0L705.9,466.4L704.2,465.7L702.0,466.3Z" fill="#25cca6"/><path d="M715.3,467.5L717.5,466.9L715.9,466.2L713.6,466.8Z" fill="#25cca6"/><path d="M719.2,467.7L721.4,467.1L719.7,466.3L717.5,466.9Z" fill="#25cca6"/><path d="M709.2,467.9L711.4,467.4L709.7,466.6L707.5,467.2Z" fill="#25cca6"/><path d="M701.4,467.6L703.6,467.0L702.0,466.3L699.7,466.9Z" fill="#25cca6"/><path d="M705.3,467.8L707.5,467.2L705.9,466.4L703.6,467.0Z" fill="#25cca6"/><path d="M713.1,468.1L715.3,467.5L713.6,466.8L711.4,467.4Z" fill="#25cca6"/><path d="M717.0,468.3L719.2,467.7L717.5,466.9L715.3,467.5Z" fill="#25cca6"/><path d="M703.1,468.4L705.3,467.8L703.6,467.0L701.4,467.6Z" fill="#25cca6"/><path d="M707.0,468.5L709.2,467.9L707.5,467.2L705.3,467.8Z" fill="#25cca6"/><path d="M710.9,468.7L713.1,468.1L711.4,467.4L709.2,467.9Z" fill="#25cca6"/><path d="M714.7,468.9L717.0,468.3L715.3,467.5L713.1,468.1Z" fill="#25cca6"/><path d="M704.7,469.1L707.0,468.5L705.3,467.8L703.1,468.4Z" fill="#25cca6"/><path d="M712.5,469.5L714.7,468.9L713.1,468.1L710.9,468.7Z" fill="#25cca6"/><path d="M708.6,469.3L710.9,468.7L709.2,467.9L707.0,468.5Z" fill="#25cca6"/><path d="M706.4,469.9L708.6,469.3L707.0,468.5L704.7,469.1Z" fill="#25cca6"/><path d="M710.3,470.0L712.5,469.5L710.9,468.7L708.6,469.3Z" fill="#25cca6"/><path d="M708.1,470.6L710.3,470.0L708.6,469.3L706.4,469.9Z" fill="#25cca6"/></g><polyline points="703.0,413.1 704.4,416.9 705.2,420.6 705.5,426.5 705.9,430.9 709.6,433.1 715.6,433.9 717.0,436.9 724.4,436.9 730.4,438.3 732.1,442.0 733.0,445.0 737.8,447.2 742.2,451.7 743.0,455.4 739.6,458.0" fill="none" stroke="#111" stroke-width="1.15" stroke-linejoin="round"/><text class="kn" x="718.5" y="403.8">Knowledge</text><line x1="738.5" y1="408.0" x2="723.6" y2="424.7" stroke="#111" stroke-width="1.3"/><polygon points="720.0,428.9 721.6,422.9 725.7,426.6" fill="#111"/><text class="kn" x="937.1" y="412.5">Knowledge</text><line x1="967.6" y1="415.7" x2="967.6" y2="433.1" stroke="#111" stroke-width="1.3"/><polygon points="967.6,438.6 964.4,433.1 970.7,433.1" fill="#111"/><path d="M1012.7,413.8V468.2M1031.1,413.8V468.2M994.8,430.4H1049.3M994.8,449.1H1049.3" stroke="#5a5a5a" stroke-width="0.85" fill="none"/><text transform="translate(952.3,457.7) scale(1,1.2)" style="font-family:'Liberation Mono','DejaVu Sans Mono',monospace;font-weight:bold;font-size:12.5px" fill="#111" stroke="#111" stroke-width="0.45">θ</text><path d="M965.0,452.9 C976.7,452.0 978.0,427.4 985.7,422.9" fill="none" stroke="#5b8ff0" stroke-width="1.15"/><polygon points="989.9,420.7 986.5,425.9 983.7,421.7" fill="#5b8ff0"/><path d="M965.0,452.9 C990.9,453.3 1002.6,440.4 1025.3,440.0" fill="none" stroke="#3ce83c" stroke-width="1.15"/><polygon points="1030.1,440.0 1024.6,442.5 1024.6,437.5" fill="#3ce83c"/><path d="M965.0,452.9 C984.4,452.0 985.7,461.5 1005.8,461.5" fill="none" stroke="#ff3838" stroke-width="1.15"/><polygon points="1010.6,461.5 1005.2,464.0 1005.2,459.0" fill="#ff3838"/><text transform="translate(996.6,424.6) scale(1,1.2)" style="font-family:'Liberation Mono','DejaVu Sans Mono',monospace;font-weight:bold;font-size:12px" fill="#4a86e8" stroke="#4a86e8" stroke-width="0.45">θ</text><text x="1003.2" y="428.0" style="font-family:'Liberation Mono','DejaVu Sans Mono',monospace;font-weight:bold;font-size:7.5px" fill="#4a86e8" stroke="#4a86e8" stroke-width="0.3">1</text><text transform="translate(1036.3,444.0) scale(1,1.2)" style="font-family:'Liberation Mono','DejaVu Sans Mono',monospace;font-weight:bold;font-size:12px" fill="#19e619" stroke="#19e619" stroke-width="0.45">θ</text><text x="1042.9" y="447.4" style="font-family:'Liberation Mono','DejaVu Sans Mono',monospace;font-weight:bold;font-size:7.5px" fill="#19e619" stroke="#19e619" stroke-width="0.3">2</text><text transform="translate(1017.1,466.0) scale(1,1.2)" style="font-family:'Liberation Mono','DejaVu Sans Mono',monospace;font-weight:bold;font-size:12px" fill="#ff2a2a" stroke="#ff2a2a" stroke-width="0.45">θ</text><text x="1023.7" y="469.4" style="font-family:'Liberation Mono','DejaVu Sans Mono',monospace;font-weight:bold;font-size:7.5px" fill="#ff2a2a" stroke="#ff2a2a" stroke-width="0.3">3</text>
<rect x="97.01" y="707.05" width="67.01" height="201.55" fill="#3679a5"/>
<rect x="164.02" y="707.05" width="67.01" height="97.30" fill="#56a3d3"/>
<rect x="231.04" y="804.35" width="67.01" height="59.77" fill="#a3cde6"/>
<rect x="298.05" y="864.12" width="67.01" height="7.64" fill="#f0b0b0"/>
<rect x="365.06" y="871.76" width="67.01" height="2.78" fill="#f0b0b0"/>
<rect x="432.08" y="873.85" width="67.01" height="34.75" fill="#c85c5c"/>
<rect x="63.5" y="700.3" width="469.1" height="208.3" fill="none" stroke="#444" stroke-width="1"/>
<line x1="60.0" y1="908.6" x2="63.5" y2="908.6" stroke="#444" stroke-width="1"/>
<text class="tick" x="57.5" y="914.2" text-anchor="end">0.5</text>
<line x1="60.0" y1="873.9" x2="63.5" y2="873.9" stroke="#444" stroke-width="1"/>
<text class="tick" x="57.5" y="879.5" text-anchor="end">1.0</text>
<line x1="60.0" y1="839.1" x2="63.5" y2="839.1" stroke="#444" stroke-width="1"/>
<text class="tick" x="57.5" y="844.7" text-anchor="end">1.5</text>
<line x1="60.0" y1="804.4" x2="63.5" y2="804.4" stroke="#444" stroke-width="1"/>
<text class="tick" x="57.5" y="810.0" text-anchor="end">2.0</text>
<line x1="60.0" y1="769.6" x2="63.5" y2="769.6" stroke="#444" stroke-width="1"/>
<text class="tick" x="57.5" y="775.2" text-anchor="end">2.5</text>
<line x1="60.0" y1="734.9" x2="63.5" y2="734.9" stroke="#444" stroke-width="1"/>
<text class="tick" x="57.5" y="740.5" text-anchor="end">3.0</text>
<line x1="130.5" y1="908.6" x2="130.5" y2="912.1" stroke="#444" stroke-width="1"/>
<text class="tick" transform="translate(131.8,926.3) rotate(25)">GRU</text>
<line x1="197.5" y1="908.6" x2="197.5" y2="912.1" stroke="#444" stroke-width="1"/>
<text class="tick" transform="translate(198.8,926.3) rotate(25)">+ Satellite GPP</text>
<line x1="264.5" y1="908.6" x2="264.5" y2="912.1" stroke="#444" stroke-width="1"/>
<text class="tick" transform="translate(265.8,926.3) rotate(25)">+ Pretrain</text>
<line x1="331.6" y1="908.6" x2="331.6" y2="912.1" stroke="#444" stroke-width="1"/>
<text class="tick" transform="translate(332.9,926.3) rotate(25)">+ KG Structure</text>
<line x1="398.6" y1="908.6" x2="398.6" y2="912.1" stroke="#444" stroke-width="1"/>
<text class="tick" transform="translate(399.9,926.3) rotate(25)">+ KG Loss</text>
<line x1="465.6" y1="908.6" x2="465.6" y2="912.1" stroke="#444" stroke-width="1"/>
<text class="tick" transform="translate(466.9,926.3) rotate(25)">Final model</text>
<text class="val" x="197.5" y="823.2">-1.40</text>
<text class="val" x="264.5" y="883.0">-0.86</text>
<text class="val" x="331.6" y="890.7">-0.11</text>
<text class="val" x="398.6" y="893.4">-0.04</text>
<text class="ttl" x="298.1" y="695.3">Application to NEE predictions</text>
<text class="tick" text-anchor="middle" transform="translate(28.5,806.2) rotate(-90)">RMSE</text>
<rect x="634.08" y="721.38" width="78.17" height="186.92" fill="#3679a5"/>
<rect x="712.25" y="721.38" width="78.17" height="23.74" fill="#56a3d3"/>
<rect x="790.42" y="745.12" width="78.17" height="44.50" fill="#b3d4e8"/>
<rect x="868.58" y="789.62" width="78.17" height="29.67" fill="#eeacac"/>
<rect x="946.75" y="819.29" width="78.17" height="89.01" fill="#c85c5c"/>
<rect x="595" y="700.3" width="469.0" height="208.0" fill="none" stroke="#444" stroke-width="1"/>
<line x1="591.5" y1="908.3" x2="595" y2="908.3" stroke="#444" stroke-width="1"/>
<text class="tick" x="589.0" y="913.9" text-anchor="end">0.0</text>
<line x1="591.5" y1="849.0" x2="595" y2="849.0" stroke="#444" stroke-width="1"/>
<text class="tick" x="589.0" y="854.6" text-anchor="end">0.2</text>
<line x1="591.5" y1="789.6" x2="595" y2="789.6" stroke="#444" stroke-width="1"/>
<text class="tick" x="589.0" y="795.2" text-anchor="end">0.4</text>
<line x1="591.5" y1="730.3" x2="595" y2="730.3" stroke="#444" stroke-width="1"/>
<text class="tick" x="589.0" y="735.9" text-anchor="end">0.6</text>
<line x1="673.2" y1="908.3" x2="673.2" y2="911.8" stroke="#444" stroke-width="1"/>
<text class="tick" transform="translate(674.5,926.0) rotate(25)">LSTM</text>
<line x1="751.3" y1="908.3" x2="751.3" y2="911.8" stroke="#444" stroke-width="1"/>
<text class="tick" transform="translate(752.6,926.0) rotate(25)">+ Multi-task</text>
<line x1="829.5" y1="908.3" x2="829.5" y2="911.8" stroke="#444" stroke-width="1"/>
<text class="tick" transform="translate(830.8,926.0) rotate(25)">+ State-Aware</text>
<line x1="907.7" y1="908.3" x2="907.7" y2="911.8" stroke="#444" stroke-width="1"/>
<text class="tick" transform="translate(909.0,926.0) rotate(25)">+ KG Structure</text>
<line x1="985.8" y1="908.3" x2="985.8" y2="911.8" stroke="#444" stroke-width="1"/>
<text class="tick" transform="translate(987.1,926.0) rotate(25)">Final model</text>
<text class="val" x="751.3" y="772.3">-0.08</text>
<text class="val" x="829.5" y="816.8">-0.15</text>
<text class="val" x="907.7" y="846.5">-0.10</text>
<text class="ttl" x="829.5" y="695.3">Application to streamflow predictions</text>
<text class="tick" text-anchor="middle" transform="translate(560.0,806.1) rotate(-90)">RMSE</text>
</svg></body></html>
